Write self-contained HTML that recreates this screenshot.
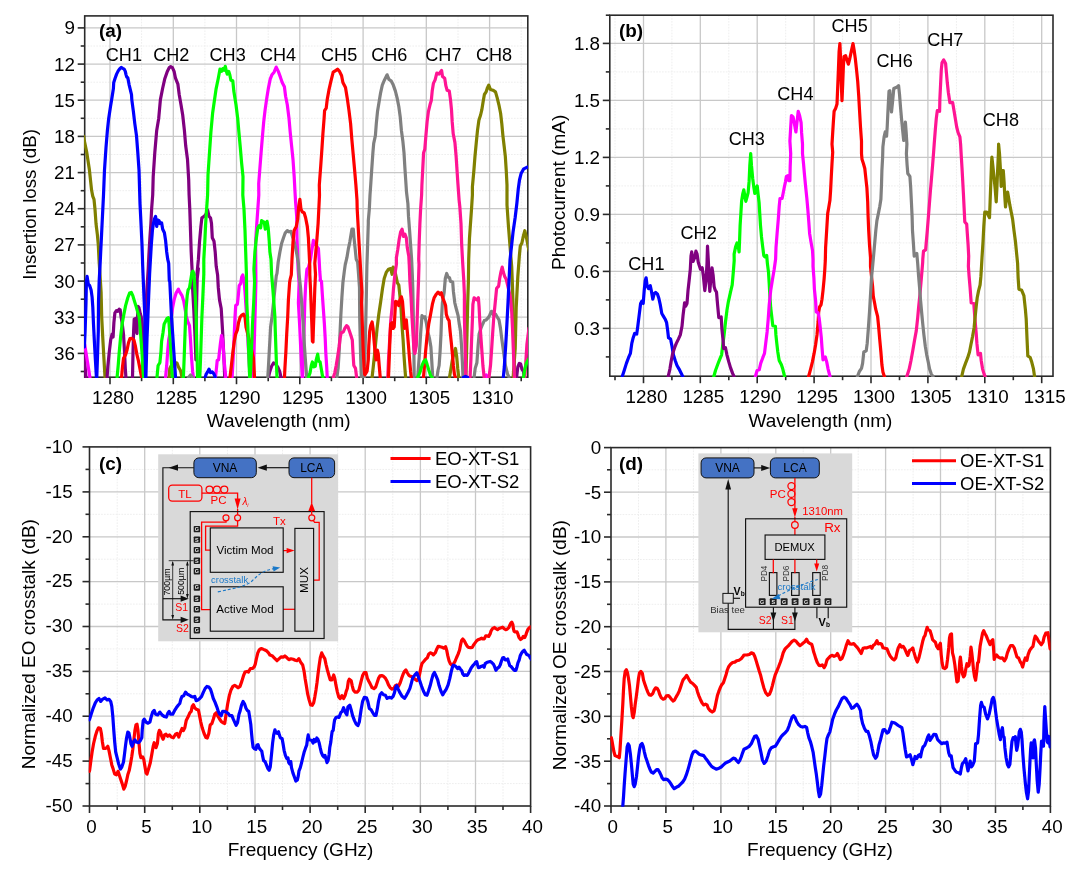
<!DOCTYPE html>
<html><head><meta charset="utf-8"><title>Figure</title>
<style>html,body{margin:0;padding:0;background:#fff;}svg{display:block;will-change:transform;}text{font-family:"Liberation Sans",sans-serif;fill:#000;}</style>
</head><body>
<svg width="1080" height="877" viewBox="0 0 1080 877" font-family='"Liberation Sans", sans-serif'>
<rect width="1080" height="877" fill="#fff"/>
<defs>
<clipPath id="clipA"><rect x="83.9" y="15.9" width="443.99999999999994" height="362.1"/></clipPath>
<clipPath id="clipB"><rect x="609.0" y="15.2" width="444.1" height="361.8"/></clipPath>
<clipPath id="clipC"><rect x="88.7" y="446.9" width="442.0" height="359.90000000000003"/></clipPath>
<clipPath id="clipD"><rect x="610.2" y="447.6" width="440.30000000000007" height="359.2"/></clipPath>
</defs>
<g>
<line x1="141.6" y1="15.9" x2="141.6" y2="377.2" stroke="#eeeeee" stroke-width="1" stroke-dasharray="1.7 1.2"/>
<line x1="204.9" y1="15.9" x2="204.9" y2="377.2" stroke="#eeeeee" stroke-width="1" stroke-dasharray="1.7 1.2"/>
<line x1="268.2" y1="15.9" x2="268.2" y2="377.2" stroke="#eeeeee" stroke-width="1" stroke-dasharray="1.7 1.2"/>
<line x1="331.4" y1="15.9" x2="331.4" y2="377.2" stroke="#eeeeee" stroke-width="1" stroke-dasharray="1.7 1.2"/>
<line x1="394.7" y1="15.9" x2="394.7" y2="377.2" stroke="#eeeeee" stroke-width="1" stroke-dasharray="1.7 1.2"/>
<line x1="458.0" y1="15.9" x2="458.0" y2="377.2" stroke="#eeeeee" stroke-width="1" stroke-dasharray="1.7 1.2"/>
<line x1="521.2" y1="15.9" x2="521.2" y2="377.2" stroke="#eeeeee" stroke-width="1" stroke-dasharray="1.7 1.2"/>
<line x1="84.7" y1="46.0" x2="527.8" y2="46.0" stroke="#eeeeee" stroke-width="1" stroke-dasharray="1.7 1.2"/>
<line x1="84.7" y1="82.2" x2="527.8" y2="82.2" stroke="#eeeeee" stroke-width="1" stroke-dasharray="1.7 1.2"/>
<line x1="84.7" y1="118.3" x2="527.8" y2="118.3" stroke="#eeeeee" stroke-width="1" stroke-dasharray="1.7 1.2"/>
<line x1="84.7" y1="154.5" x2="527.8" y2="154.5" stroke="#eeeeee" stroke-width="1" stroke-dasharray="1.7 1.2"/>
<line x1="84.7" y1="190.7" x2="527.8" y2="190.7" stroke="#eeeeee" stroke-width="1" stroke-dasharray="1.7 1.2"/>
<line x1="84.7" y1="226.8" x2="527.8" y2="226.8" stroke="#eeeeee" stroke-width="1" stroke-dasharray="1.7 1.2"/>
<line x1="84.7" y1="263.0" x2="527.8" y2="263.0" stroke="#eeeeee" stroke-width="1" stroke-dasharray="1.7 1.2"/>
<line x1="84.7" y1="299.2" x2="527.8" y2="299.2" stroke="#eeeeee" stroke-width="1" stroke-dasharray="1.7 1.2"/>
<line x1="84.7" y1="335.3" x2="527.8" y2="335.3" stroke="#eeeeee" stroke-width="1" stroke-dasharray="1.7 1.2"/>
<line x1="84.7" y1="371.5" x2="527.8" y2="371.5" stroke="#eeeeee" stroke-width="1" stroke-dasharray="1.7 1.2"/>
<line x1="110.0" y1="15.9" x2="110.0" y2="377.2" stroke="#c8c8c8" stroke-width="1.3"/>
<line x1="173.3" y1="15.9" x2="173.3" y2="377.2" stroke="#c8c8c8" stroke-width="1.3"/>
<line x1="236.5" y1="15.9" x2="236.5" y2="377.2" stroke="#c8c8c8" stroke-width="1.3"/>
<line x1="299.8" y1="15.9" x2="299.8" y2="377.2" stroke="#c8c8c8" stroke-width="1.3"/>
<line x1="363.1" y1="15.9" x2="363.1" y2="377.2" stroke="#c8c8c8" stroke-width="1.3"/>
<line x1="426.3" y1="15.9" x2="426.3" y2="377.2" stroke="#c8c8c8" stroke-width="1.3"/>
<line x1="489.6" y1="15.9" x2="489.6" y2="377.2" stroke="#c8c8c8" stroke-width="1.3"/>
<line x1="84.7" y1="27.9" x2="527.8" y2="27.9" stroke="#c8c8c8" stroke-width="1.3"/>
<line x1="84.7" y1="64.1" x2="527.8" y2="64.1" stroke="#c8c8c8" stroke-width="1.3"/>
<line x1="84.7" y1="100.2" x2="527.8" y2="100.2" stroke="#c8c8c8" stroke-width="1.3"/>
<line x1="84.7" y1="136.4" x2="527.8" y2="136.4" stroke="#c8c8c8" stroke-width="1.3"/>
<line x1="84.7" y1="172.6" x2="527.8" y2="172.6" stroke="#c8c8c8" stroke-width="1.3"/>
<line x1="84.7" y1="208.7" x2="527.8" y2="208.7" stroke="#c8c8c8" stroke-width="1.3"/>
<line x1="84.7" y1="244.9" x2="527.8" y2="244.9" stroke="#c8c8c8" stroke-width="1.3"/>
<line x1="84.7" y1="281.1" x2="527.8" y2="281.1" stroke="#c8c8c8" stroke-width="1.3"/>
<line x1="84.7" y1="317.2" x2="527.8" y2="317.2" stroke="#c8c8c8" stroke-width="1.3"/>
<line x1="84.7" y1="353.4" x2="527.8" y2="353.4" stroke="#c8c8c8" stroke-width="1.3"/>
</g>
<g>
<line x1="615.0" y1="15.2" x2="615.0" y2="376.2" stroke="#eeeeee" stroke-width="1" stroke-dasharray="1.7 1.2"/>
<line x1="671.9" y1="15.2" x2="671.9" y2="376.2" stroke="#eeeeee" stroke-width="1" stroke-dasharray="1.7 1.2"/>
<line x1="728.8" y1="15.2" x2="728.8" y2="376.2" stroke="#eeeeee" stroke-width="1" stroke-dasharray="1.7 1.2"/>
<line x1="785.7" y1="15.2" x2="785.7" y2="376.2" stroke="#eeeeee" stroke-width="1" stroke-dasharray="1.7 1.2"/>
<line x1="842.6" y1="15.2" x2="842.6" y2="376.2" stroke="#eeeeee" stroke-width="1" stroke-dasharray="1.7 1.2"/>
<line x1="899.5" y1="15.2" x2="899.5" y2="376.2" stroke="#eeeeee" stroke-width="1" stroke-dasharray="1.7 1.2"/>
<line x1="956.4" y1="15.2" x2="956.4" y2="376.2" stroke="#eeeeee" stroke-width="1" stroke-dasharray="1.7 1.2"/>
<line x1="1013.3" y1="15.2" x2="1013.3" y2="376.2" stroke="#eeeeee" stroke-width="1" stroke-dasharray="1.7 1.2"/>
<line x1="609.8" y1="356.9" x2="1053.0" y2="356.9" stroke="#eeeeee" stroke-width="1" stroke-dasharray="1.7 1.2"/>
<line x1="609.8" y1="299.9" x2="1053.0" y2="299.9" stroke="#eeeeee" stroke-width="1" stroke-dasharray="1.7 1.2"/>
<line x1="609.8" y1="242.9" x2="1053.0" y2="242.9" stroke="#eeeeee" stroke-width="1" stroke-dasharray="1.7 1.2"/>
<line x1="609.8" y1="185.9" x2="1053.0" y2="185.9" stroke="#eeeeee" stroke-width="1" stroke-dasharray="1.7 1.2"/>
<line x1="609.8" y1="128.9" x2="1053.0" y2="128.9" stroke="#eeeeee" stroke-width="1" stroke-dasharray="1.7 1.2"/>
<line x1="609.8" y1="71.9" x2="1053.0" y2="71.9" stroke="#eeeeee" stroke-width="1" stroke-dasharray="1.7 1.2"/>
<line x1="643.5" y1="15.2" x2="643.5" y2="376.2" stroke="#c8c8c8" stroke-width="1.3"/>
<line x1="700.3" y1="15.2" x2="700.3" y2="376.2" stroke="#c8c8c8" stroke-width="1.3"/>
<line x1="757.2" y1="15.2" x2="757.2" y2="376.2" stroke="#c8c8c8" stroke-width="1.3"/>
<line x1="814.1" y1="15.2" x2="814.1" y2="376.2" stroke="#c8c8c8" stroke-width="1.3"/>
<line x1="871.0" y1="15.2" x2="871.0" y2="376.2" stroke="#c8c8c8" stroke-width="1.3"/>
<line x1="927.9" y1="15.2" x2="927.9" y2="376.2" stroke="#c8c8c8" stroke-width="1.3"/>
<line x1="984.8" y1="15.2" x2="984.8" y2="376.2" stroke="#c8c8c8" stroke-width="1.3"/>
<line x1="1041.7" y1="15.2" x2="1041.7" y2="376.2" stroke="#c8c8c8" stroke-width="1.3"/>
<line x1="609.8" y1="328.4" x2="1053.0" y2="328.4" stroke="#c8c8c8" stroke-width="1.3"/>
<line x1="609.8" y1="271.4" x2="1053.0" y2="271.4" stroke="#c8c8c8" stroke-width="1.3"/>
<line x1="609.8" y1="214.4" x2="1053.0" y2="214.4" stroke="#c8c8c8" stroke-width="1.3"/>
<line x1="609.8" y1="157.4" x2="1053.0" y2="157.4" stroke="#c8c8c8" stroke-width="1.3"/>
<line x1="609.8" y1="100.4" x2="1053.0" y2="100.4" stroke="#c8c8c8" stroke-width="1.3"/>
<line x1="609.8" y1="43.4" x2="1053.0" y2="43.4" stroke="#c8c8c8" stroke-width="1.3"/>
</g>
<g>
<line x1="117.2" y1="446.9" x2="117.2" y2="806.0" stroke="#eeeeee" stroke-width="1" stroke-dasharray="1.7 1.2"/>
<line x1="172.3" y1="446.9" x2="172.3" y2="806.0" stroke="#eeeeee" stroke-width="1" stroke-dasharray="1.7 1.2"/>
<line x1="227.4" y1="446.9" x2="227.4" y2="806.0" stroke="#eeeeee" stroke-width="1" stroke-dasharray="1.7 1.2"/>
<line x1="282.5" y1="446.9" x2="282.5" y2="806.0" stroke="#eeeeee" stroke-width="1" stroke-dasharray="1.7 1.2"/>
<line x1="337.7" y1="446.9" x2="337.7" y2="806.0" stroke="#eeeeee" stroke-width="1" stroke-dasharray="1.7 1.2"/>
<line x1="392.8" y1="446.9" x2="392.8" y2="806.0" stroke="#eeeeee" stroke-width="1" stroke-dasharray="1.7 1.2"/>
<line x1="447.9" y1="446.9" x2="447.9" y2="806.0" stroke="#eeeeee" stroke-width="1" stroke-dasharray="1.7 1.2"/>
<line x1="503.0" y1="446.9" x2="503.0" y2="806.0" stroke="#eeeeee" stroke-width="1" stroke-dasharray="1.7 1.2"/>
<line x1="89.5" y1="783.6" x2="530.6" y2="783.6" stroke="#eeeeee" stroke-width="1" stroke-dasharray="1.7 1.2"/>
<line x1="89.5" y1="738.7" x2="530.6" y2="738.7" stroke="#eeeeee" stroke-width="1" stroke-dasharray="1.7 1.2"/>
<line x1="89.5" y1="693.8" x2="530.6" y2="693.8" stroke="#eeeeee" stroke-width="1" stroke-dasharray="1.7 1.2"/>
<line x1="89.5" y1="648.9" x2="530.6" y2="648.9" stroke="#eeeeee" stroke-width="1" stroke-dasharray="1.7 1.2"/>
<line x1="89.5" y1="604.1" x2="530.6" y2="604.1" stroke="#eeeeee" stroke-width="1" stroke-dasharray="1.7 1.2"/>
<line x1="89.5" y1="559.2" x2="530.6" y2="559.2" stroke="#eeeeee" stroke-width="1" stroke-dasharray="1.7 1.2"/>
<line x1="89.5" y1="514.3" x2="530.6" y2="514.3" stroke="#eeeeee" stroke-width="1" stroke-dasharray="1.7 1.2"/>
<line x1="89.5" y1="469.4" x2="530.6" y2="469.4" stroke="#eeeeee" stroke-width="1" stroke-dasharray="1.7 1.2"/>
<line x1="144.7" y1="446.9" x2="144.7" y2="806.0" stroke="#c8c8c8" stroke-width="1.3"/>
<line x1="199.8" y1="446.9" x2="199.8" y2="806.0" stroke="#c8c8c8" stroke-width="1.3"/>
<line x1="255.0" y1="446.9" x2="255.0" y2="806.0" stroke="#c8c8c8" stroke-width="1.3"/>
<line x1="310.1" y1="446.9" x2="310.1" y2="806.0" stroke="#c8c8c8" stroke-width="1.3"/>
<line x1="365.2" y1="446.9" x2="365.2" y2="806.0" stroke="#c8c8c8" stroke-width="1.3"/>
<line x1="420.4" y1="446.9" x2="420.4" y2="806.0" stroke="#c8c8c8" stroke-width="1.3"/>
<line x1="475.5" y1="446.9" x2="475.5" y2="806.0" stroke="#c8c8c8" stroke-width="1.3"/>
<line x1="89.5" y1="761.1" x2="530.6" y2="761.1" stroke="#c8c8c8" stroke-width="1.3"/>
<line x1="89.5" y1="716.2" x2="530.6" y2="716.2" stroke="#c8c8c8" stroke-width="1.3"/>
<line x1="89.5" y1="671.4" x2="530.6" y2="671.4" stroke="#c8c8c8" stroke-width="1.3"/>
<line x1="89.5" y1="626.5" x2="530.6" y2="626.5" stroke="#c8c8c8" stroke-width="1.3"/>
<line x1="89.5" y1="581.6" x2="530.6" y2="581.6" stroke="#c8c8c8" stroke-width="1.3"/>
<line x1="89.5" y1="536.8" x2="530.6" y2="536.8" stroke="#c8c8c8" stroke-width="1.3"/>
<line x1="89.5" y1="491.9" x2="530.6" y2="491.9" stroke="#c8c8c8" stroke-width="1.3"/>
</g>
<g>
<line x1="638.5" y1="447.6" x2="638.5" y2="806.0" stroke="#eeeeee" stroke-width="1" stroke-dasharray="1.7 1.2"/>
<line x1="693.4" y1="447.6" x2="693.4" y2="806.0" stroke="#eeeeee" stroke-width="1" stroke-dasharray="1.7 1.2"/>
<line x1="748.3" y1="447.6" x2="748.3" y2="806.0" stroke="#eeeeee" stroke-width="1" stroke-dasharray="1.7 1.2"/>
<line x1="803.2" y1="447.6" x2="803.2" y2="806.0" stroke="#eeeeee" stroke-width="1" stroke-dasharray="1.7 1.2"/>
<line x1="858.2" y1="447.6" x2="858.2" y2="806.0" stroke="#eeeeee" stroke-width="1" stroke-dasharray="1.7 1.2"/>
<line x1="913.1" y1="447.6" x2="913.1" y2="806.0" stroke="#eeeeee" stroke-width="1" stroke-dasharray="1.7 1.2"/>
<line x1="968.0" y1="447.6" x2="968.0" y2="806.0" stroke="#eeeeee" stroke-width="1" stroke-dasharray="1.7 1.2"/>
<line x1="1022.9" y1="447.6" x2="1022.9" y2="806.0" stroke="#eeeeee" stroke-width="1" stroke-dasharray="1.7 1.2"/>
<line x1="611.0" y1="783.6" x2="1050.4" y2="783.6" stroke="#eeeeee" stroke-width="1" stroke-dasharray="1.7 1.2"/>
<line x1="611.0" y1="738.8" x2="1050.4" y2="738.8" stroke="#eeeeee" stroke-width="1" stroke-dasharray="1.7 1.2"/>
<line x1="611.0" y1="693.9" x2="1050.4" y2="693.9" stroke="#eeeeee" stroke-width="1" stroke-dasharray="1.7 1.2"/>
<line x1="611.0" y1="649.1" x2="1050.4" y2="649.1" stroke="#eeeeee" stroke-width="1" stroke-dasharray="1.7 1.2"/>
<line x1="611.0" y1="604.3" x2="1050.4" y2="604.3" stroke="#eeeeee" stroke-width="1" stroke-dasharray="1.7 1.2"/>
<line x1="611.0" y1="559.5" x2="1050.4" y2="559.5" stroke="#eeeeee" stroke-width="1" stroke-dasharray="1.7 1.2"/>
<line x1="611.0" y1="514.6" x2="1050.4" y2="514.6" stroke="#eeeeee" stroke-width="1" stroke-dasharray="1.7 1.2"/>
<line x1="611.0" y1="469.8" x2="1050.4" y2="469.8" stroke="#eeeeee" stroke-width="1" stroke-dasharray="1.7 1.2"/>
<line x1="665.9" y1="447.6" x2="665.9" y2="806.0" stroke="#c8c8c8" stroke-width="1.3"/>
<line x1="720.9" y1="447.6" x2="720.9" y2="806.0" stroke="#c8c8c8" stroke-width="1.3"/>
<line x1="775.8" y1="447.6" x2="775.8" y2="806.0" stroke="#c8c8c8" stroke-width="1.3"/>
<line x1="830.7" y1="447.6" x2="830.7" y2="806.0" stroke="#c8c8c8" stroke-width="1.3"/>
<line x1="885.6" y1="447.6" x2="885.6" y2="806.0" stroke="#c8c8c8" stroke-width="1.3"/>
<line x1="940.5" y1="447.6" x2="940.5" y2="806.0" stroke="#c8c8c8" stroke-width="1.3"/>
<line x1="995.5" y1="447.6" x2="995.5" y2="806.0" stroke="#c8c8c8" stroke-width="1.3"/>
<line x1="611.0" y1="761.2" x2="1050.4" y2="761.2" stroke="#c8c8c8" stroke-width="1.3"/>
<line x1="611.0" y1="716.3" x2="1050.4" y2="716.3" stroke="#c8c8c8" stroke-width="1.3"/>
<line x1="611.0" y1="671.5" x2="1050.4" y2="671.5" stroke="#c8c8c8" stroke-width="1.3"/>
<line x1="611.0" y1="626.7" x2="1050.4" y2="626.7" stroke="#c8c8c8" stroke-width="1.3"/>
<line x1="611.0" y1="581.9" x2="1050.4" y2="581.9" stroke="#c8c8c8" stroke-width="1.3"/>
<line x1="611.0" y1="537.0" x2="1050.4" y2="537.0" stroke="#c8c8c8" stroke-width="1.3"/>
<line x1="611.0" y1="492.2" x2="1050.4" y2="492.2" stroke="#c8c8c8" stroke-width="1.3"/>
</g>
<rect x="84.7" y="15.9" width="443.09999999999997" height="361.3" fill="none" stroke="#2a2a2a" stroke-width="1.6"/>
<line x1="110.0" y1="377.2" x2="110.0" y2="384.2" stroke="#2a2a2a" stroke-width="1.6"/>
<line x1="173.3" y1="377.2" x2="173.3" y2="384.2" stroke="#2a2a2a" stroke-width="1.6"/>
<line x1="236.5" y1="377.2" x2="236.5" y2="384.2" stroke="#2a2a2a" stroke-width="1.6"/>
<line x1="299.8" y1="377.2" x2="299.8" y2="384.2" stroke="#2a2a2a" stroke-width="1.6"/>
<line x1="363.1" y1="377.2" x2="363.1" y2="384.2" stroke="#2a2a2a" stroke-width="1.6"/>
<line x1="426.3" y1="377.2" x2="426.3" y2="384.2" stroke="#2a2a2a" stroke-width="1.6"/>
<line x1="489.6" y1="377.2" x2="489.6" y2="384.2" stroke="#2a2a2a" stroke-width="1.6"/>
<line x1="141.6" y1="377.2" x2="141.6" y2="381.2" stroke="#2a2a2a" stroke-width="1.6"/>
<line x1="204.9" y1="377.2" x2="204.9" y2="381.2" stroke="#2a2a2a" stroke-width="1.6"/>
<line x1="268.2" y1="377.2" x2="268.2" y2="381.2" stroke="#2a2a2a" stroke-width="1.6"/>
<line x1="331.4" y1="377.2" x2="331.4" y2="381.2" stroke="#2a2a2a" stroke-width="1.6"/>
<line x1="394.7" y1="377.2" x2="394.7" y2="381.2" stroke="#2a2a2a" stroke-width="1.6"/>
<line x1="458.0" y1="377.2" x2="458.0" y2="381.2" stroke="#2a2a2a" stroke-width="1.6"/>
<line x1="521.2" y1="377.2" x2="521.2" y2="381.2" stroke="#2a2a2a" stroke-width="1.6"/>
<line x1="77.7" y1="27.9" x2="84.7" y2="27.9" stroke="#2a2a2a" stroke-width="1.6"/>
<line x1="77.7" y1="64.1" x2="84.7" y2="64.1" stroke="#2a2a2a" stroke-width="1.6"/>
<line x1="77.7" y1="100.2" x2="84.7" y2="100.2" stroke="#2a2a2a" stroke-width="1.6"/>
<line x1="77.7" y1="136.4" x2="84.7" y2="136.4" stroke="#2a2a2a" stroke-width="1.6"/>
<line x1="77.7" y1="172.6" x2="84.7" y2="172.6" stroke="#2a2a2a" stroke-width="1.6"/>
<line x1="77.7" y1="208.7" x2="84.7" y2="208.7" stroke="#2a2a2a" stroke-width="1.6"/>
<line x1="77.7" y1="244.9" x2="84.7" y2="244.9" stroke="#2a2a2a" stroke-width="1.6"/>
<line x1="77.7" y1="281.1" x2="84.7" y2="281.1" stroke="#2a2a2a" stroke-width="1.6"/>
<line x1="77.7" y1="317.2" x2="84.7" y2="317.2" stroke="#2a2a2a" stroke-width="1.6"/>
<line x1="77.7" y1="353.4" x2="84.7" y2="353.4" stroke="#2a2a2a" stroke-width="1.6"/>
<line x1="80.7" y1="46.0" x2="84.7" y2="46.0" stroke="#2a2a2a" stroke-width="1.6"/>
<line x1="80.7" y1="82.2" x2="84.7" y2="82.2" stroke="#2a2a2a" stroke-width="1.6"/>
<line x1="80.7" y1="118.3" x2="84.7" y2="118.3" stroke="#2a2a2a" stroke-width="1.6"/>
<line x1="80.7" y1="154.5" x2="84.7" y2="154.5" stroke="#2a2a2a" stroke-width="1.6"/>
<line x1="80.7" y1="190.7" x2="84.7" y2="190.7" stroke="#2a2a2a" stroke-width="1.6"/>
<line x1="80.7" y1="226.8" x2="84.7" y2="226.8" stroke="#2a2a2a" stroke-width="1.6"/>
<line x1="80.7" y1="263.0" x2="84.7" y2="263.0" stroke="#2a2a2a" stroke-width="1.6"/>
<line x1="80.7" y1="299.2" x2="84.7" y2="299.2" stroke="#2a2a2a" stroke-width="1.6"/>
<line x1="80.7" y1="335.3" x2="84.7" y2="335.3" stroke="#2a2a2a" stroke-width="1.6"/>
<line x1="80.7" y1="371.5" x2="84.7" y2="371.5" stroke="#2a2a2a" stroke-width="1.6"/>
<text x="113.0" y="403.8" font-size="18.8" text-anchor="middle">1280</text>
<text x="176.3" y="403.8" font-size="18.8" text-anchor="middle">1285</text>
<text x="239.5" y="403.8" font-size="18.8" text-anchor="middle">1290</text>
<text x="302.8" y="403.8" font-size="18.8" text-anchor="middle">1295</text>
<text x="366.1" y="403.8" font-size="18.8" text-anchor="middle">1300</text>
<text x="429.3" y="403.8" font-size="18.8" text-anchor="middle">1305</text>
<text x="492.6" y="403.8" font-size="18.8" text-anchor="middle">1310</text>
<text x="74.9" y="34.3" font-size="18.8" text-anchor="end">9</text>
<text x="74.9" y="70.5" font-size="18.8" text-anchor="end">12</text>
<text x="74.9" y="106.6" font-size="18.8" text-anchor="end">15</text>
<text x="74.9" y="142.8" font-size="18.8" text-anchor="end">18</text>
<text x="74.9" y="179.0" font-size="18.8" text-anchor="end">21</text>
<text x="74.9" y="215.1" font-size="18.8" text-anchor="end">24</text>
<text x="74.9" y="251.3" font-size="18.8" text-anchor="end">27</text>
<text x="74.9" y="287.5" font-size="18.8" text-anchor="end">30</text>
<text x="74.9" y="323.6" font-size="18.8" text-anchor="end">33</text>
<text x="74.9" y="359.8" font-size="18.8" text-anchor="end">36</text>
<rect x="609.8" y="15.2" width="443.20000000000005" height="361.0" fill="none" stroke="#2a2a2a" stroke-width="1.6"/>
<line x1="643.5" y1="376.2" x2="643.5" y2="383.2" stroke="#2a2a2a" stroke-width="1.6"/>
<line x1="700.3" y1="376.2" x2="700.3" y2="383.2" stroke="#2a2a2a" stroke-width="1.6"/>
<line x1="757.2" y1="376.2" x2="757.2" y2="383.2" stroke="#2a2a2a" stroke-width="1.6"/>
<line x1="814.1" y1="376.2" x2="814.1" y2="383.2" stroke="#2a2a2a" stroke-width="1.6"/>
<line x1="871.0" y1="376.2" x2="871.0" y2="383.2" stroke="#2a2a2a" stroke-width="1.6"/>
<line x1="927.9" y1="376.2" x2="927.9" y2="383.2" stroke="#2a2a2a" stroke-width="1.6"/>
<line x1="984.8" y1="376.2" x2="984.8" y2="383.2" stroke="#2a2a2a" stroke-width="1.6"/>
<line x1="1041.7" y1="376.2" x2="1041.7" y2="383.2" stroke="#2a2a2a" stroke-width="1.6"/>
<line x1="615.0" y1="376.2" x2="615.0" y2="380.2" stroke="#2a2a2a" stroke-width="1.6"/>
<line x1="671.9" y1="376.2" x2="671.9" y2="380.2" stroke="#2a2a2a" stroke-width="1.6"/>
<line x1="728.8" y1="376.2" x2="728.8" y2="380.2" stroke="#2a2a2a" stroke-width="1.6"/>
<line x1="785.7" y1="376.2" x2="785.7" y2="380.2" stroke="#2a2a2a" stroke-width="1.6"/>
<line x1="842.6" y1="376.2" x2="842.6" y2="380.2" stroke="#2a2a2a" stroke-width="1.6"/>
<line x1="899.5" y1="376.2" x2="899.5" y2="380.2" stroke="#2a2a2a" stroke-width="1.6"/>
<line x1="956.4" y1="376.2" x2="956.4" y2="380.2" stroke="#2a2a2a" stroke-width="1.6"/>
<line x1="1013.3" y1="376.2" x2="1013.3" y2="380.2" stroke="#2a2a2a" stroke-width="1.6"/>
<line x1="602.8" y1="328.4" x2="609.8" y2="328.4" stroke="#2a2a2a" stroke-width="1.6"/>
<line x1="602.8" y1="271.4" x2="609.8" y2="271.4" stroke="#2a2a2a" stroke-width="1.6"/>
<line x1="602.8" y1="214.4" x2="609.8" y2="214.4" stroke="#2a2a2a" stroke-width="1.6"/>
<line x1="602.8" y1="157.4" x2="609.8" y2="157.4" stroke="#2a2a2a" stroke-width="1.6"/>
<line x1="602.8" y1="100.4" x2="609.8" y2="100.4" stroke="#2a2a2a" stroke-width="1.6"/>
<line x1="602.8" y1="43.4" x2="609.8" y2="43.4" stroke="#2a2a2a" stroke-width="1.6"/>
<line x1="605.8" y1="356.9" x2="609.8" y2="356.9" stroke="#2a2a2a" stroke-width="1.6"/>
<line x1="605.8" y1="299.9" x2="609.8" y2="299.9" stroke="#2a2a2a" stroke-width="1.6"/>
<line x1="605.8" y1="242.9" x2="609.8" y2="242.9" stroke="#2a2a2a" stroke-width="1.6"/>
<line x1="605.8" y1="185.9" x2="609.8" y2="185.9" stroke="#2a2a2a" stroke-width="1.6"/>
<line x1="605.8" y1="128.9" x2="609.8" y2="128.9" stroke="#2a2a2a" stroke-width="1.6"/>
<line x1="605.8" y1="71.9" x2="609.8" y2="71.9" stroke="#2a2a2a" stroke-width="1.6"/>
<line x1="605.8" y1="15.2" x2="609.8" y2="15.2" stroke="#2a2a2a" stroke-width="1.6"/>
<text x="646.5" y="402.8" font-size="18.8" text-anchor="middle">1280</text>
<text x="703.3" y="402.8" font-size="18.8" text-anchor="middle">1285</text>
<text x="760.2" y="402.8" font-size="18.8" text-anchor="middle">1290</text>
<text x="817.1" y="402.8" font-size="18.8" text-anchor="middle">1295</text>
<text x="874.0" y="402.8" font-size="18.8" text-anchor="middle">1300</text>
<text x="930.9" y="402.8" font-size="18.8" text-anchor="middle">1305</text>
<text x="987.8" y="402.8" font-size="18.8" text-anchor="middle">1310</text>
<text x="1044.7" y="402.8" font-size="18.8" text-anchor="middle">1315</text>
<text x="600.0" y="334.8" font-size="18.8" text-anchor="end">0.3</text>
<text x="600.0" y="277.8" font-size="18.8" text-anchor="end">0.6</text>
<text x="600.0" y="220.8" font-size="18.8" text-anchor="end">0.9</text>
<text x="600.0" y="163.8" font-size="18.8" text-anchor="end">1.2</text>
<text x="600.0" y="106.8" font-size="18.8" text-anchor="end">1.5</text>
<text x="600.0" y="49.8" font-size="18.8" text-anchor="end">1.8</text>
<rect x="89.5" y="446.9" width="441.1" height="359.1" fill="none" stroke="#2a2a2a" stroke-width="1.6"/>
<line x1="89.5" y1="806.0" x2="89.5" y2="813.0" stroke="#2a2a2a" stroke-width="1.6"/>
<line x1="144.7" y1="806.0" x2="144.7" y2="813.0" stroke="#2a2a2a" stroke-width="1.6"/>
<line x1="199.8" y1="806.0" x2="199.8" y2="813.0" stroke="#2a2a2a" stroke-width="1.6"/>
<line x1="255.0" y1="806.0" x2="255.0" y2="813.0" stroke="#2a2a2a" stroke-width="1.6"/>
<line x1="310.1" y1="806.0" x2="310.1" y2="813.0" stroke="#2a2a2a" stroke-width="1.6"/>
<line x1="365.2" y1="806.0" x2="365.2" y2="813.0" stroke="#2a2a2a" stroke-width="1.6"/>
<line x1="420.4" y1="806.0" x2="420.4" y2="813.0" stroke="#2a2a2a" stroke-width="1.6"/>
<line x1="475.5" y1="806.0" x2="475.5" y2="813.0" stroke="#2a2a2a" stroke-width="1.6"/>
<line x1="530.6" y1="806.0" x2="530.6" y2="813.0" stroke="#2a2a2a" stroke-width="1.6"/>
<line x1="117.2" y1="806.0" x2="117.2" y2="810.0" stroke="#2a2a2a" stroke-width="1.6"/>
<line x1="172.3" y1="806.0" x2="172.3" y2="810.0" stroke="#2a2a2a" stroke-width="1.6"/>
<line x1="227.4" y1="806.0" x2="227.4" y2="810.0" stroke="#2a2a2a" stroke-width="1.6"/>
<line x1="282.5" y1="806.0" x2="282.5" y2="810.0" stroke="#2a2a2a" stroke-width="1.6"/>
<line x1="337.7" y1="806.0" x2="337.7" y2="810.0" stroke="#2a2a2a" stroke-width="1.6"/>
<line x1="392.8" y1="806.0" x2="392.8" y2="810.0" stroke="#2a2a2a" stroke-width="1.6"/>
<line x1="447.9" y1="806.0" x2="447.9" y2="810.0" stroke="#2a2a2a" stroke-width="1.6"/>
<line x1="503.0" y1="806.0" x2="503.0" y2="810.0" stroke="#2a2a2a" stroke-width="1.6"/>
<line x1="82.5" y1="806.0" x2="89.5" y2="806.0" stroke="#2a2a2a" stroke-width="1.6"/>
<line x1="82.5" y1="761.1" x2="89.5" y2="761.1" stroke="#2a2a2a" stroke-width="1.6"/>
<line x1="82.5" y1="716.2" x2="89.5" y2="716.2" stroke="#2a2a2a" stroke-width="1.6"/>
<line x1="82.5" y1="671.4" x2="89.5" y2="671.4" stroke="#2a2a2a" stroke-width="1.6"/>
<line x1="82.5" y1="626.5" x2="89.5" y2="626.5" stroke="#2a2a2a" stroke-width="1.6"/>
<line x1="82.5" y1="581.6" x2="89.5" y2="581.6" stroke="#2a2a2a" stroke-width="1.6"/>
<line x1="82.5" y1="536.8" x2="89.5" y2="536.8" stroke="#2a2a2a" stroke-width="1.6"/>
<line x1="82.5" y1="491.9" x2="89.5" y2="491.9" stroke="#2a2a2a" stroke-width="1.6"/>
<line x1="82.5" y1="446.9" x2="89.5" y2="446.9" stroke="#2a2a2a" stroke-width="1.6"/>
<line x1="85.5" y1="783.6" x2="89.5" y2="783.6" stroke="#2a2a2a" stroke-width="1.6"/>
<line x1="85.5" y1="738.7" x2="89.5" y2="738.7" stroke="#2a2a2a" stroke-width="1.6"/>
<line x1="85.5" y1="693.8" x2="89.5" y2="693.8" stroke="#2a2a2a" stroke-width="1.6"/>
<line x1="85.5" y1="648.9" x2="89.5" y2="648.9" stroke="#2a2a2a" stroke-width="1.6"/>
<line x1="85.5" y1="604.1" x2="89.5" y2="604.1" stroke="#2a2a2a" stroke-width="1.6"/>
<line x1="85.5" y1="559.2" x2="89.5" y2="559.2" stroke="#2a2a2a" stroke-width="1.6"/>
<line x1="85.5" y1="514.3" x2="89.5" y2="514.3" stroke="#2a2a2a" stroke-width="1.6"/>
<line x1="85.5" y1="469.4" x2="89.5" y2="469.4" stroke="#2a2a2a" stroke-width="1.6"/>
<text x="91.4" y="832.6" font-size="18.8" text-anchor="middle">0</text>
<text x="146.5" y="832.6" font-size="18.8" text-anchor="middle">5</text>
<text x="201.7" y="832.6" font-size="18.8" text-anchor="middle">10</text>
<text x="256.8" y="832.6" font-size="18.8" text-anchor="middle">15</text>
<text x="311.9" y="832.6" font-size="18.8" text-anchor="middle">20</text>
<text x="367.0" y="832.6" font-size="18.8" text-anchor="middle">25</text>
<text x="422.2" y="832.6" font-size="18.8" text-anchor="middle">30</text>
<text x="477.3" y="832.6" font-size="18.8" text-anchor="middle">35</text>
<text x="532.4" y="832.6" font-size="18.8" text-anchor="middle">40</text>
<text x="72.7" y="811.8" font-size="18.8" text-anchor="end">-50</text>
<text x="72.7" y="766.9" font-size="18.8" text-anchor="end">-45</text>
<text x="72.7" y="722.0" font-size="18.8" text-anchor="end">-40</text>
<text x="72.7" y="677.2" font-size="18.8" text-anchor="end">-35</text>
<text x="72.7" y="632.3" font-size="18.8" text-anchor="end">-30</text>
<text x="72.7" y="587.4" font-size="18.8" text-anchor="end">-25</text>
<text x="72.7" y="542.5" font-size="18.8" text-anchor="end">-20</text>
<text x="72.7" y="497.7" font-size="18.8" text-anchor="end">-15</text>
<text x="72.7" y="452.8" font-size="18.8" text-anchor="end">-10</text>
<rect x="611.0" y="447.6" width="439.4000000000001" height="358.4" fill="none" stroke="#2a2a2a" stroke-width="1.6"/>
<line x1="611.0" y1="806.0" x2="611.0" y2="813.0" stroke="#2a2a2a" stroke-width="1.6"/>
<line x1="665.9" y1="806.0" x2="665.9" y2="813.0" stroke="#2a2a2a" stroke-width="1.6"/>
<line x1="720.9" y1="806.0" x2="720.9" y2="813.0" stroke="#2a2a2a" stroke-width="1.6"/>
<line x1="775.8" y1="806.0" x2="775.8" y2="813.0" stroke="#2a2a2a" stroke-width="1.6"/>
<line x1="830.7" y1="806.0" x2="830.7" y2="813.0" stroke="#2a2a2a" stroke-width="1.6"/>
<line x1="885.6" y1="806.0" x2="885.6" y2="813.0" stroke="#2a2a2a" stroke-width="1.6"/>
<line x1="940.5" y1="806.0" x2="940.5" y2="813.0" stroke="#2a2a2a" stroke-width="1.6"/>
<line x1="995.5" y1="806.0" x2="995.5" y2="813.0" stroke="#2a2a2a" stroke-width="1.6"/>
<line x1="1050.4" y1="806.0" x2="1050.4" y2="813.0" stroke="#2a2a2a" stroke-width="1.6"/>
<line x1="638.5" y1="806.0" x2="638.5" y2="810.0" stroke="#2a2a2a" stroke-width="1.6"/>
<line x1="693.4" y1="806.0" x2="693.4" y2="810.0" stroke="#2a2a2a" stroke-width="1.6"/>
<line x1="748.3" y1="806.0" x2="748.3" y2="810.0" stroke="#2a2a2a" stroke-width="1.6"/>
<line x1="803.2" y1="806.0" x2="803.2" y2="810.0" stroke="#2a2a2a" stroke-width="1.6"/>
<line x1="858.2" y1="806.0" x2="858.2" y2="810.0" stroke="#2a2a2a" stroke-width="1.6"/>
<line x1="913.1" y1="806.0" x2="913.1" y2="810.0" stroke="#2a2a2a" stroke-width="1.6"/>
<line x1="968.0" y1="806.0" x2="968.0" y2="810.0" stroke="#2a2a2a" stroke-width="1.6"/>
<line x1="1022.9" y1="806.0" x2="1022.9" y2="810.0" stroke="#2a2a2a" stroke-width="1.6"/>
<line x1="604.0" y1="806.0" x2="611.0" y2="806.0" stroke="#2a2a2a" stroke-width="1.6"/>
<line x1="604.0" y1="761.2" x2="611.0" y2="761.2" stroke="#2a2a2a" stroke-width="1.6"/>
<line x1="604.0" y1="716.3" x2="611.0" y2="716.3" stroke="#2a2a2a" stroke-width="1.6"/>
<line x1="604.0" y1="671.5" x2="611.0" y2="671.5" stroke="#2a2a2a" stroke-width="1.6"/>
<line x1="604.0" y1="626.7" x2="611.0" y2="626.7" stroke="#2a2a2a" stroke-width="1.6"/>
<line x1="604.0" y1="581.9" x2="611.0" y2="581.9" stroke="#2a2a2a" stroke-width="1.6"/>
<line x1="604.0" y1="537.0" x2="611.0" y2="537.0" stroke="#2a2a2a" stroke-width="1.6"/>
<line x1="604.0" y1="492.2" x2="611.0" y2="492.2" stroke="#2a2a2a" stroke-width="1.6"/>
<line x1="604.0" y1="447.6" x2="611.0" y2="447.6" stroke="#2a2a2a" stroke-width="1.6"/>
<line x1="607.0" y1="783.6" x2="611.0" y2="783.6" stroke="#2a2a2a" stroke-width="1.6"/>
<line x1="607.0" y1="738.8" x2="611.0" y2="738.8" stroke="#2a2a2a" stroke-width="1.6"/>
<line x1="607.0" y1="693.9" x2="611.0" y2="693.9" stroke="#2a2a2a" stroke-width="1.6"/>
<line x1="607.0" y1="649.1" x2="611.0" y2="649.1" stroke="#2a2a2a" stroke-width="1.6"/>
<line x1="607.0" y1="604.3" x2="611.0" y2="604.3" stroke="#2a2a2a" stroke-width="1.6"/>
<line x1="607.0" y1="559.5" x2="611.0" y2="559.5" stroke="#2a2a2a" stroke-width="1.6"/>
<line x1="607.0" y1="514.6" x2="611.0" y2="514.6" stroke="#2a2a2a" stroke-width="1.6"/>
<line x1="607.0" y1="469.8" x2="611.0" y2="469.8" stroke="#2a2a2a" stroke-width="1.6"/>
<text x="612.8" y="832.6" font-size="18.8" text-anchor="middle">0</text>
<text x="667.7" y="832.6" font-size="18.8" text-anchor="middle">5</text>
<text x="722.6" y="832.6" font-size="18.8" text-anchor="middle">10</text>
<text x="777.6" y="832.6" font-size="18.8" text-anchor="middle">15</text>
<text x="832.5" y="832.6" font-size="18.8" text-anchor="middle">20</text>
<text x="887.4" y="832.6" font-size="18.8" text-anchor="middle">25</text>
<text x="942.3" y="832.6" font-size="18.8" text-anchor="middle">30</text>
<text x="997.3" y="832.6" font-size="18.8" text-anchor="middle">35</text>
<text x="1052.2" y="832.6" font-size="18.8" text-anchor="middle">40</text>
<text x="601.2" y="812.4" font-size="18.8" text-anchor="end">-40</text>
<text x="601.2" y="767.6" font-size="18.8" text-anchor="end">-35</text>
<text x="601.2" y="722.7" font-size="18.8" text-anchor="end">-30</text>
<text x="601.2" y="677.9" font-size="18.8" text-anchor="end">-25</text>
<text x="601.2" y="633.1" font-size="18.8" text-anchor="end">-20</text>
<text x="601.2" y="588.3" font-size="18.8" text-anchor="end">-15</text>
<text x="601.2" y="543.4" font-size="18.8" text-anchor="end">-10</text>
<text x="601.2" y="498.6" font-size="18.8" text-anchor="end">-5</text>
<text x="601.2" y="453.8" font-size="18.8" text-anchor="end">0</text>
<text x="278.7" y="427.4" font-size="19" text-anchor="middle">Wavelength (nm)</text>
<text x="820.4" y="427.4" font-size="19" text-anchor="middle">Wavelength (nm)</text>
<text x="300.6" y="855.5" font-size="19" text-anchor="middle">Frequency (GHz)</text>
<text x="819.9" y="855.5" font-size="19" text-anchor="middle">Frequency (GHz)</text>
<text transform="translate(36,204.4) rotate(-90)" font-size="18.7" text-anchor="middle">Insertion loss (dB)</text>
<text transform="translate(565.1,192.4) rotate(-90)" font-size="19" text-anchor="middle">Photocurrent (mA)</text>
<text transform="translate(34.6,644.2) rotate(-90)" font-size="19" text-anchor="middle">Normalized EO crosstalk (dB)</text>
<text transform="translate(565.7,645.2) rotate(-90)" font-size="19" text-anchor="middle">Normalized OE crosstalk (dB)</text>
<text x="98.9" y="36.7" font-size="18.9" font-weight="bold">(a)</text>
<text x="618.9" y="36.7" font-size="18.9" font-weight="bold">(b)</text>
<text x="98.9" y="469.7" font-size="18.9" font-weight="bold">(c)</text>
<text x="618.9" y="469.7" font-size="18.9" font-weight="bold">(d)</text>
<text x="105.8" y="61.1" font-size="18.1">CH1</text>
<text x="153.2" y="61.1" font-size="18.1">CH2</text>
<text x="209.5" y="61.1" font-size="18.1">CH3</text>
<text x="259.9" y="61.1" font-size="18.1">CH4</text>
<text x="321.0" y="61.1" font-size="18.1">CH5</text>
<text x="371.2" y="61.1" font-size="18.1">CH6</text>
<text x="425.3" y="61.1" font-size="18.1">CH7</text>
<text x="475.9" y="61.1" font-size="18.1">CH8</text>
<text x="628.3" y="270.1" font-size="18.1">CH1</text>
<text x="680.5" y="238.9" font-size="18.1">CH2</text>
<text x="728.7" y="144.6" font-size="18.1">CH3</text>
<text x="777.3" y="99.5" font-size="18.1">CH4</text>
<text x="831.5" y="31.7" font-size="18.1">CH5</text>
<text x="876.5" y="66.8" font-size="18.1">CH6</text>
<text x="927.2" y="45.8" font-size="18.1">CH7</text>
<text x="982.8" y="125.5" font-size="18.1">CH8</text>
<g id="curvesA">
<path d="M83.5,136.0 L84.3,140.7 L86.8,152.7 L89.4,169.8 L91.6,190.3 L92.8,196.4 L94.0,199.3 L95.0,209.3 L96.0,223.5 L97.4,234.9 L98.3,244.9 L99.0,259.2 L100.0,274.9 L101.1,292.0 L101.7,317.0 L102.8,338.4 L104.0,359.8 L105.0,377.2" fill="none" stroke="#808000" stroke-width="3.2" stroke-linejoin="round" stroke-linecap="round" clip-path="url(#clipA)"/>
<path d="M169.1,377.2 L169.8,368.4 L171.3,365.5 L173.4,366.2 L175.3,362.7 L177.0,363.0 L178.4,366.9 L180.5,370.5 L182.0,377.2" fill="none" stroke="#808000" stroke-width="3.2" stroke-linejoin="round" stroke-linecap="round" clip-path="url(#clipA)"/>
<path d="M372.1,377.2 L373.1,368.4 L374.3,357.0 L375.7,342.7 L377.1,328.4 L378.8,314.2 L380.7,301.4 L382.5,288.5 L384.2,278.5 L386.4,272.1 L388.5,269.3 L390.7,268.6 L392.1,274.3 L393.1,267.1 L394.2,268.6 L395.6,274.3 L397.4,282.8 L398.8,285.0 L399.9,295.6 L401.1,309.9 L402.1,327.0 L403.1,339.9 L403.9,354.1 L404.9,368.4 L405.6,377.2" fill="none" stroke="#808000" stroke-width="3.2" stroke-linejoin="round" stroke-linecap="round" clip-path="url(#clipA)"/>
<path d="M449.5,377.2 L451.0,368.4 L452.4,359.8 L454.1,352.7 L455.5,348.4 L456.7,357.0 L457.7,368.4 L458.7,377.2" fill="none" stroke="#808000" stroke-width="3.2" stroke-linejoin="round" stroke-linecap="round" clip-path="url(#clipA)"/>
<path d="M465.9,377.2 L466.2,366.9 L466.7,345.6 L467.2,324.2 L467.7,302.8 L468.4,281.4 L468.7,259.2 L469.5,237.8 L470.5,223.5 L471.5,209.3 L472.4,195.0 L472.4,186.9 L473.8,171.5 L475.0,156.1 L476.3,142.4 L477.5,130.4 L478.9,120.2 L480.6,115.0 L481.8,109.9 L483.2,101.3 L484.4,94.5 L486.1,91.9 L487.5,87.6 L488.7,85.1 L490.4,89.4 L492.9,90.2 L495.5,91.9 L497.2,97.9 L498.9,104.8 L500.6,113.3 L501.8,123.6 L502.9,135.6 L504.1,145.8 L505.3,156.1 L506.3,171.5 L507.0,185.2 L507.0,205.0 L508.4,225.5 L510.0,246.0 L511.7,266.6 L512.5,287.1 L513.1,307.6 L513.7,328.1 L514.1,348.6 L514.5,369.2 L514.8,377.4" fill="none" stroke="#808000" stroke-width="3.2" stroke-linejoin="round" stroke-linecap="round" clip-path="url(#clipA)"/>
<path d="M513.1,378.0 L515.2,348.6 L516.2,307.6 L517.8,276.8 L519.3,256.3 L520.3,246.0 L521.9,243.0 L523.4,235.8 L524.8,230.7 L526.5,237.8 L528.0,246.0 L529.5,252.0" fill="none" stroke="#808000" stroke-width="3.2" stroke-linejoin="round" stroke-linecap="round" clip-path="url(#clipA)"/>
<path d="M84.4,350.0 L85.0,365.0 L86.0,378.0" fill="none" stroke="#800080" stroke-width="3.2" stroke-linejoin="round" stroke-linecap="round" clip-path="url(#clipA)"/>
<path d="M107.1,377.2 L107.8,366.9 L109.2,352.7 L110.7,339.9 L112.1,334.1 L113.1,337.0 L113.9,322.7 L114.9,312.8 L116.4,310.6 L117.8,311.3 L119.2,309.2 L120.2,309.9 L121.1,317.0 L122.1,322.7 L123.5,334.1 L124.5,351.3 L125.3,368.4 L125.9,377.2" fill="none" stroke="#800080" stroke-width="3.2" stroke-linejoin="round" stroke-linecap="round" clip-path="url(#clipA)"/>
<path d="M132.5,377.2 L133.0,352.7 L133.6,331.3 L134.2,319.2 L135.3,318.5 L136.3,331.3 L137.0,333.4 L137.5,319.9 L137.9,306.3 L139.0,307.8 L140.2,313.5 L141.3,317.0 L142.5,334.1 L143.5,357.0 L144.2,377.2" fill="none" stroke="#800080" stroke-width="3.2" stroke-linejoin="round" stroke-linecap="round" clip-path="url(#clipA)"/>
<path d="M142.0,378.0 L145.0,320.0 L148.2,269.1 L148.9,254.9 L149.9,237.8 L150.9,223.5 L151.7,207.8 L152.7,195.0 L153.2,176.6 L154.8,152.7 L156.7,130.4 L158.7,118.4 L160.4,99.6 L162.6,88.5 L164.7,79.1 L167.3,71.4 L169.3,67.6 L170.7,66.6 L172.4,67.6 L174.1,71.4 L175.5,78.2 L177.9,84.2 L179.2,94.5 L181.0,104.8 L182.7,115.0 L184.4,130.4 L185.7,145.8 L187.5,159.5 L188.7,180.0 L189.1,195.0 L189.8,209.3 L190.5,230.6 L191.2,252.0 L191.9,266.3 L192.6,280.6 L192.6,288.5 L193.8,309.9 L194.8,331.3 L195.5,348.4 L195.9,359.8 L196.2,339.9 L196.2,324.2 L196.6,302.8 L197.2,278.5 L198.4,268.6 L196.9,274.9 L198.4,259.2 L199.5,242.1 L200.9,226.4 L201.9,217.8 L204.1,216.4 L205.5,215.0 L207.6,210.0 L209.0,216.4 L210.5,217.8 L211.5,223.5 L212.3,237.8 L214.0,241.3 L215.2,252.0 L216.2,266.3 L217.6,274.9 L218.3,287.7 L219.5,299.9 L221.2,308.5 L221.9,319.9 L222.6,331.3 L223.3,345.6 L224.0,359.8 L224.7,377.2" fill="none" stroke="#800080" stroke-width="3.2" stroke-linejoin="round" stroke-linecap="round" clip-path="url(#clipA)"/>
<path d="M268.5,377.2 L269.9,371.2 L271.6,366.2 L273.5,363.0 L275.6,364.1 L277.7,366.9 L279.6,371.2 L281.0,377.2" fill="none" stroke="#800080" stroke-width="3.2" stroke-linejoin="round" stroke-linecap="round" clip-path="url(#clipA)"/>
<path d="M516.5,378.0 L517.8,367.1 L519.3,363.4 L520.7,364.0 L521.9,369.2 L523.4,371.2 L524.5,378.0" fill="none" stroke="#800080" stroke-width="3.2" stroke-linejoin="round" stroke-linecap="round" clip-path="url(#clipA)"/>
<path d="M84.6,344.0 L87.5,362.0 L90.0,378.0" fill="none" stroke="#ff00ff" stroke-width="3.2" stroke-linejoin="round" stroke-linecap="round" clip-path="url(#clipA)"/>
<path d="M165.6,377.2 L166.7,365.5 L167.7,351.3 L168.7,339.9 L169.8,334.1 L171.3,317.0 L172.7,307.1 L174.1,299.9 L176.2,292.8 L178.4,289.2 L179.8,292.1 L182.0,295.6 L183.8,301.4 L184.8,307.1 L186.2,315.6 L187.7,321.3 L189.5,325.6 L190.5,339.9 L191.5,357.0 L192.6,371.2 L193.4,377.2" fill="none" stroke="#ff00ff" stroke-width="3.2" stroke-linejoin="round" stroke-linecap="round" clip-path="url(#clipA)"/>
<path d="M215.5,377.2 L216.6,366.9 L217.2,360.5 L218.6,359.8 L219.5,351.3 L220.5,342.7 L221.5,335.6 L222.6,339.9 L223.3,348.4 L224.0,359.8 L225.2,371.2 L225.7,377.2" fill="none" stroke="#ff00ff" stroke-width="3.2" stroke-linejoin="round" stroke-linecap="round" clip-path="url(#clipA)"/>
<path d="M232.1,377.2 L233.1,359.8 L234.0,339.9 L235.0,317.0 L235.7,305.6 L237.4,304.2 L238.3,295.6 L239.2,285.7 L240.7,283.5 L241.7,277.1 L242.8,275.0 L244.0,280.0 L245.0,291.4 L246.0,307.1 L247.1,324.2 L248.2,345.6 L249.2,362.7 L250.2,377.2" fill="none" stroke="#ff00ff" stroke-width="3.2" stroke-linejoin="round" stroke-linecap="round" clip-path="url(#clipA)"/>
<path d="M253.4,377.2 L253.7,366.9 L254.2,345.6 L254.8,324.2 L255.4,302.8 L255.9,281.4 L255.6,242.1 L256.8,223.5 L257.8,209.3 L258.8,195.0 L258.7,183.5 L259.9,168.1 L261.1,152.7 L262.5,135.6 L263.7,121.9 L265.1,109.9 L266.8,97.9 L268.5,87.6 L270.2,79.1 L271.9,74.8 L274.1,72.2 L276.2,67.1 L278.3,71.4 L280.5,77.4 L282.2,82.5 L284.4,86.8 L285.6,96.2 L287.3,104.8 L289.0,118.4 L290.2,132.1 L291.6,145.8 L293.0,159.5 L294.2,176.6 L295.0,192.0 L295.6,202.1 L296.7,216.4 L297.0,237.8 L297.7,256.3 L298.1,269.1 L299.1,283.4 L298.4,302.8 L299.6,324.2 L300.6,345.6 L301.6,365.5 L302.3,377.2 L302.4,379.8 L302.6,377.2 L303.4,352.7 L304.1,328.4 L304.8,302.8 L305.6,285.7 L306.7,271.4 L307.0,269.1 L308.4,267.7 L310.5,259.2 L312.0,249.2 L313.4,240.3 L314.8,243.5 L316.7,246.3 L318.4,248.5 L319.1,259.2 L319.8,272.0 L320.5,280.6 L320.1,280.0 L321.5,281.4 L322.4,295.6 L323.4,309.9 L324.4,324.2 L325.2,338.4 L325.8,352.7 L326.7,366.9 L327.2,377.2" fill="none" stroke="#ff00ff" stroke-width="3.2" stroke-linejoin="round" stroke-linecap="round" clip-path="url(#clipA)"/>
<path d="M484.8,377.5 L486.2,374.9 L488.3,377.5" fill="none" stroke="#ff00ff" stroke-width="3.2" stroke-linejoin="round" stroke-linecap="round" clip-path="url(#clipA)"/>
<path d="M188.4,377.5 L190.5,374.9 L192.6,377.5" fill="none" stroke="#808080" stroke-width="3.2" stroke-linejoin="round" stroke-linecap="round" clip-path="url(#clipA)"/>
<path d="M267.8,377.2 L268.5,365.5 L269.2,352.7 L269.9,339.9 L270.6,327.0 L272.0,317.0 L273.5,302.8 L274.9,288.5 L276.3,275.7 L277.0,273.4 L278.2,262.0 L279.9,252.0 L281.6,243.5 L283.5,237.8 L285.3,232.8 L287.3,230.6 L289.2,231.8 L290.9,231.4 L292.4,236.4 L293.9,240.6 L295.6,247.8 L297.0,254.9 L298.4,263.4 L299.1,274.3 L300.6,288.5 L302.0,307.1 L303.4,327.0 L304.4,345.6 L305.6,362.7 L306.7,377.2" fill="none" stroke="#808080" stroke-width="3.2" stroke-linejoin="round" stroke-linecap="round" clip-path="url(#clipA)"/>
<path d="M336.9,377.2 L338.1,368.4 L339.1,352.7 L340.1,331.3 L340.9,314.2 L341.9,297.1 L342.9,282.8 L344.3,271.4 L345.2,264.9 L346.9,257.7 L348.3,249.2 L349.8,242.1 L351.2,233.5 L351.9,229.2 L353.3,229.2 L354.0,237.8 L355.2,249.2 L356.2,259.2 L357.6,262.0 L358.6,274.9 L359.5,287.7 L359.7,317.0 L360.5,351.3 L361.2,374.1 L361.5,377.2" fill="none" stroke="#808080" stroke-width="3.2" stroke-linejoin="round" stroke-linecap="round" clip-path="url(#clipA)"/>
<path d="M364.3,377.2 L364.7,366.9 L365.2,345.6 L365.7,324.2 L366.2,302.8 L366.6,281.4 L366.9,266.3 L367.6,244.9 L368.3,223.5 L368.3,220.7 L369.3,209.3 L370.0,195.0 L370.7,185.2 L371.7,169.8 L372.9,152.7 L373.7,143.3 L375.4,135.6 L376.3,123.6 L377.5,111.6 L379.2,101.3 L380.6,92.8 L382.3,85.1 L384.5,79.9 L387.1,74.8 L388.9,79.4 L391.1,80.8 L393.3,85.1 L395.4,91.1 L397.1,97.9 L398.8,106.5 L400.2,116.7 L401.4,130.4 L402.8,140.7 L404.0,152.7 L404.8,166.4 L405.7,180.0 L406.5,192.0 L407.9,203.6 L408.5,216.4 L409.6,230.6 L410.6,244.9 L411.6,259.2 L412.3,274.3 L412.8,288.5 L413.5,324.2 L413.9,352.7 L414.2,377.2" fill="none" stroke="#808080" stroke-width="3.2" stroke-linejoin="round" stroke-linecap="round" clip-path="url(#clipA)"/>
<path d="M417.7,377.2 L419.2,357.0 L420.6,334.1 L422.0,315.6 L423.5,317.7 L424.9,316.8 L426.3,322.7 L427.7,331.3 L429.4,338.1 L430.9,347.0 L431.7,359.8 L432.7,377.2" fill="none" stroke="#808080" stroke-width="3.2" stroke-linejoin="round" stroke-linecap="round" clip-path="url(#clipA)"/>
<path d="M437.0,377.2 L438.1,369.8 L439.1,365.5 L440.1,351.3 L441.0,334.1 L441.6,317.0 L442.4,302.8 L444.1,292.8 L445.3,278.5 L446.7,273.5 L448.1,277.1 L449.5,277.8 L450.5,281.4 L452.7,282.1 L453.4,291.4 L454.8,302.8 L456.2,308.5 L458.1,315.6 L459.1,322.7 L460.5,331.3 L461.5,345.6 L462.4,362.7 L463.0,377.2" fill="none" stroke="#808080" stroke-width="3.2" stroke-linejoin="round" stroke-linecap="round" clip-path="url(#clipA)"/>
<path d="M474.1,377.2 L475.2,368.4 L476.9,362.7 L478.1,345.6 L479.1,334.1 L480.9,328.4 L482.6,324.2 L484.3,320.6 L486.2,319.9 L488.3,317.7 L489.8,314.9 L491.5,311.3 L493.3,314.9 L495.5,314.2 L497.2,317.0 L499.0,319.9 L500.5,328.4 L501.9,339.9 L503.7,352.7 L505.4,365.5 L507.6,374.1 L509.0,377.2" fill="none" stroke="#808080" stroke-width="3.2" stroke-linejoin="round" stroke-linecap="round" clip-path="url(#clipA)"/>
<path d="M333.4,377.2 L334.8,372.6 L336.2,365.5 L337.6,357.0 L339.1,347.0 L340.1,338.4 L341.2,332.7 L343.3,332.0 L344.8,328.4 L346.6,325.6 L348.0,327.0 L349.5,331.3 L350.9,335.6 L352.3,339.9 L352.9,351.3 L353.8,365.5 L355.5,368.4 L356.6,377.2" fill="none" stroke="#ff1493" stroke-width="3.2" stroke-linejoin="round" stroke-linecap="round" clip-path="url(#clipA)"/>
<path d="M387.8,377.2 L388.5,359.8 L389.7,339.9 L390.7,321.3 L392.1,307.1 L393.5,288.5 L394.9,274.3 L396.4,264.3 L396.4,257.7 L397.8,249.2 L399.2,239.2 L400.6,232.1 L402.1,229.2 L403.5,236.4 L404.9,234.2 L406.3,237.8 L407.3,247.8 L408.8,256.3 L409.3,265.7 L409.9,281.4 L411.0,297.1 L412.0,317.0 L413.0,334.1 L413.9,348.4 L414.9,353.4 L416.3,345.6 L417.0,324.2 L417.7,302.8 L418.5,281.4 L419.0,264.3 L418.7,259.2 L419.2,242.1 L419.9,223.5 L420.6,209.3 L421.6,195.0 L421.9,185.2 L422.8,168.1 L423.6,152.7 L424.8,149.2 L425.9,135.6 L427.1,121.9 L428.4,111.6 L430.0,104.8 L431.3,100.5 L432.2,91.1 L433.4,83.4 L435.1,79.9 L436.8,73.1 L439.0,74.0 L441.6,70.5 L442.5,76.5 L444.7,78.2 L445.9,85.9 L447.1,90.2 L449.3,91.1 L450.5,99.6 L451.5,109.9 L452.2,121.9 L453.2,133.8 L454.9,142.4 L456.1,156.1 L457.0,169.8 L457.9,183.5 L459.1,200.1 L459.8,206.4 L461.0,223.5 L461.7,244.9 L462.7,263.4 L463.8,280.6 L464.4,294.8 L464.4,317.0 L464.9,338.4 L465.5,359.8 L465.8,377.2" fill="none" stroke="#ff1493" stroke-width="3.2" stroke-linejoin="round" stroke-linecap="round" clip-path="url(#clipA)"/>
<path d="M470.1,377.2 L470.9,359.8 L471.6,339.9 L472.4,319.9 L472.9,304.2 L474.1,297.8 L475.8,299.2 L476.9,299.9 L478.4,297.8 L479.1,307.1 L479.8,321.3 L480.9,337.0 L481.9,351.3 L482.9,365.5 L484.1,377.2" fill="none" stroke="#ff1493" stroke-width="3.2" stroke-linejoin="round" stroke-linecap="round" clip-path="url(#clipA)"/>
<path d="M489.0,377.2 L490.5,365.5 L491.5,351.3 L492.6,334.1 L493.8,317.0 L495.2,302.8 L496.6,288.5 L497.6,287.1 L498.6,286.4 L499.7,278.5 L500.9,272.1 L502.2,267.1 L503.3,272.1 L504.7,276.4 L506.2,279.2 L507.6,285.0 L510.4,297.3 L511.7,311.7 L512.5,328.1 L513.3,348.7 L514.1,369.2 L514.5,378.0" fill="none" stroke="#ff1493" stroke-width="3.2" stroke-linejoin="round" stroke-linecap="round" clip-path="url(#clipA)"/>
<path d="M524.8,378.0 L526.0,358.9 L526.9,344.5 L529.0,328.0" fill="none" stroke="#ff1493" stroke-width="3.2" stroke-linejoin="round" stroke-linecap="round" clip-path="url(#clipA)"/>
<path d="M121.6,377.2 L122.5,366.9 L123.5,358.4 L125.6,354.8 L127.1,349.8 L128.5,342.7 L129.9,338.7 L132.0,338.4 L133.9,339.9 L135.3,345.6 L136.8,354.1 L138.2,359.8 L139.6,366.9 L141.0,374.1 L141.7,377.2" fill="none" stroke="#ff0000" stroke-width="3.2" stroke-linejoin="round" stroke-linecap="round" clip-path="url(#clipA)"/>
<path d="M230.0,377.2 L231.4,365.5 L232.8,352.7 L234.3,341.3 L235.7,334.1 L237.4,329.9 L238.5,322.7 L240.2,317.0 L242.1,314.9 L243.5,314.2 L245.0,317.0 L246.0,327.0 L247.1,331.3 L248.5,337.0 L250.7,345.6 L252.5,354.1 L253.5,358.4 L254.2,371.2 L254.5,377.2" fill="none" stroke="#ff0000" stroke-width="3.2" stroke-linejoin="round" stroke-linecap="round" clip-path="url(#clipA)"/>
<path d="M284.5,377.2 L284.9,368.4 L285.9,351.3 L286.7,334.1 L287.7,317.0 L288.4,299.9 L289.6,282.8 L290.2,279.1 L291.3,274.9 L292.0,259.2 L293.0,242.1 L294.1,230.6 L296.3,226.4 L297.7,219.2 L298.7,206.4 L299.9,199.3 L301.0,209.3 L302.4,212.1 L304.1,212.8 L305.6,217.8 L307.3,226.4 L308.4,237.8 L309.1,252.0 L309.8,266.3 L309.8,274.3 L310.5,288.5 L311.3,309.9 L312.0,328.4 L312.4,341.3 L313.0,342.0 L313.4,328.4 L314.1,309.9 L314.8,288.5 L315.5,274.3 L314.8,263.4 L315.8,252.0 L317.0,237.8 L318.1,223.5 L318.8,209.3 L319.5,195.0 L319.3,185.2 L320.7,166.4 L321.9,149.2 L322.9,133.8 L324.1,118.4 L324.6,110.7 L326.2,108.2 L327.2,99.6 L328.9,90.2 L331.0,80.8 L333.2,72.2 L335.2,70.9 L337.5,69.2 L339.5,71.4 L341.6,75.7 L342.9,82.5 L345.5,87.6 L347.2,97.9 L348.9,109.9 L350.6,123.6 L351.8,139.0 L353.2,154.4 L354.6,169.8 L355.9,185.2 L357.0,200.1 L357.2,209.3 L358.0,223.5 L359.0,242.1 L360.0,259.2 L360.9,274.9 L361.9,292.0 L361.5,302.8 L362.3,324.2 L363.0,345.6 L364.0,366.9 L364.6,374.1 L365.0,374.8 L367.1,371.2 L368.3,359.8 L368.8,345.6 L369.7,331.3 L370.7,325.6 L372.1,322.0 L373.1,328.4 L374.0,339.9 L375.0,351.3 L376.0,359.8 L376.8,351.3 L377.4,350.1 L378.3,354.1 L379.2,365.5 L380.2,377.2" fill="none" stroke="#ff0000" stroke-width="3.2" stroke-linejoin="round" stroke-linecap="round" clip-path="url(#clipA)"/>
<path d="M388.5,377.2 L389.2,359.8 L389.9,339.9 L390.7,324.2 L392.1,322.7 L393.1,328.4 L394.2,327.0 L394.9,314.2 L395.6,301.4 L397.4,302.1 L398.8,305.6 L399.9,299.9 L401.4,296.8 L402.5,301.4 L403.5,314.2 L404.5,328.4 L405.3,321.3 L406.3,319.9 L407.3,331.3 L408.5,345.6 L409.6,359.8 L410.6,371.2 L411.3,377.2" fill="none" stroke="#ff0000" stroke-width="3.2" stroke-linejoin="round" stroke-linecap="round" clip-path="url(#clipA)"/>
<path d="M423.5,377.2 L424.5,365.5 L425.6,351.3 L427.0,337.0 L428.7,324.2 L430.6,314.2 L432.4,304.2 L434.1,297.8 L436.3,294.2 L438.1,292.1 L439.9,294.2 L441.3,292.8 L442.7,297.8 L444.4,302.1 L445.6,305.6 L446.3,314.2 L447.7,318.5 L449.1,320.6 L450.1,331.3 L451.3,342.7 L452.4,354.1 L453.4,365.5 L454.4,374.1 L455.3,377.2" fill="none" stroke="#ff0000" stroke-width="3.2" stroke-linejoin="round" stroke-linecap="round" clip-path="url(#clipA)"/>
<path d="M117.1,377.2 L118.2,365.5 L119.2,352.7 L120.6,337.0 L122.1,324.2 L123.9,314.2 L125.6,305.6 L127.8,297.8 L129.6,293.1 L131.3,292.5 L132.8,295.6 L134.5,301.4 L136.3,307.1 L137.7,312.0 L139.2,317.0 L140.2,328.4 L141.0,339.9 L142.0,352.7 L142.7,365.5 L143.5,377.2" fill="none" stroke="#00ff00" stroke-width="3.2" stroke-linejoin="round" stroke-linecap="round" clip-path="url(#clipA)"/>
<path d="M157.0,377.2 L158.1,365.5 L159.9,362.7 L161.0,351.3 L161.6,341.3 L163.0,332.7 L164.1,324.2 L165.6,321.3 L167.0,318.5 L168.4,317.7 L169.1,324.2 L169.8,334.1 L170.5,345.6 L171.3,359.8 L172.4,377.2" fill="none" stroke="#00ff00" stroke-width="3.2" stroke-linejoin="round" stroke-linecap="round" clip-path="url(#clipA)"/>
<path d="M183.4,377.2 L184.1,359.8 L184.8,339.9 L185.5,319.9 L186.2,307.1 L187.2,295.6 L188.1,289.9 L189.5,287.8 L190.5,281.4 L191.9,272.8 L192.9,271.1 L194.1,274.3 L194.8,287.1 L195.5,299.9 L196.2,317.0 L196.6,339.9 L197.2,359.8 L197.6,377.2" fill="none" stroke="#00ff00" stroke-width="3.2" stroke-linejoin="round" stroke-linecap="round" clip-path="url(#clipA)"/>
<path d="M199.8,377.2 L200.5,359.8 L201.2,338.4 L201.9,317.0 L202.9,295.6 L203.8,274.3 L203.8,259.2 L204.8,242.1 L205.5,226.4 L206.6,209.3 L207.6,195.0 L208.0,174.9 L209.5,152.7 L210.9,132.1 L212.6,113.3 L214.3,101.3 L216.0,89.4 L218.3,78.2 L220.0,69.1 L221.7,71.3 L222.8,68.6 L224.2,70.2 L225.3,66.3 L226.4,71.3 L227.2,74.1 L228.7,71.3 L229.8,74.7 L230.9,80.2 L232.8,80.8 L233.8,91.1 L236.0,104.8 L237.7,118.4 L238.9,132.1 L240.3,147.5 L241.6,162.9 L243.0,176.6 L242.8,195.0 L244.0,209.3 L245.0,230.6 L245.7,252.0 L246.4,273.4 L246.8,302.8 L247.8,324.2 L248.5,345.6 L249.2,366.9 L249.7,377.2 L249.9,379.8 L250.2,377.2 L250.8,366.9 L251.7,345.6 L252.5,324.2 L253.7,302.8 L254.6,281.4 L253.9,269.1 L254.9,252.0 L256.4,237.8 L257.8,227.8 L259.2,225.7 L260.6,227.8 L261.6,220.7 L262.8,221.4 L264.2,222.1 L265.3,229.2 L267.1,221.4 L268.2,227.8 L269.2,240.6 L269.9,252.0 L271.0,259.2 L271.6,274.3 L272.8,288.5 L273.9,302.8 L274.9,317.0 L275.3,331.3 L275.9,348.4 L276.5,365.5 L277.0,377.2" fill="none" stroke="#00ff00" stroke-width="3.2" stroke-linejoin="round" stroke-linecap="round" clip-path="url(#clipA)"/>
<path d="M308.4,377.2 L310.1,372.6 L311.3,365.5 L312.4,362.0 L313.8,366.9 L315.3,366.2 L316.2,359.8 L317.7,354.1 L318.7,361.2 L320.1,362.0 L321.2,368.4 L322.4,375.5 L323.0,377.2" fill="none" stroke="#00ff00" stroke-width="3.2" stroke-linejoin="round" stroke-linecap="round" clip-path="url(#clipA)"/>
<path d="M417.7,377.2 L419.9,372.6 L422.0,365.5 L423.9,361.2 L425.6,359.8 L427.0,364.1 L428.7,369.8 L430.6,375.5 L432.0,377.2" fill="none" stroke="#00ff00" stroke-width="3.2" stroke-linejoin="round" stroke-linecap="round" clip-path="url(#clipA)"/>
<path d="M523.4,378.0 L524.8,369.2 L526.5,363.0 L529.0,358.5" fill="none" stroke="#00ff00" stroke-width="3.2" stroke-linejoin="round" stroke-linecap="round" clip-path="url(#clipA)"/>
<path d="M84.4,347.0 L85.1,331.3 L86.0,302.8 L86.4,281.4 L87.1,276.4 L88.3,284.2 L89.7,285.7 L91.1,289.9 L92.1,297.1 L92.8,307.1 L93.5,324.2 L94.3,339.9 L95.4,359.8 L96.4,377.2" fill="none" stroke="#0000ff" stroke-width="3.2" stroke-linejoin="round" stroke-linecap="round" clip-path="url(#clipA)"/>
<path d="M96.8,377.2 L97.4,359.8 L98.3,331.3 L98.5,301.9 L99.2,280.6 L100.0,266.3 L100.7,252.0 L101.4,237.8 L102.1,223.5 L102.8,209.3 L103.5,195.0 L104.5,169.8 L106.0,147.5 L107.4,130.4 L108.7,118.4 L110.5,106.5 L111.8,98.8 L113.4,88.5 L113.7,82.8 L115.1,78.2 L116.6,74.1 L118.2,70.9 L119.8,68.7 L121.2,67.5 L122.8,68.4 L124.2,69.1 L125.3,71.4 L126.0,74.6 L126.7,76.9 L127.8,77.8 L128.5,81.4 L129.2,85.1 L130.3,89.6 L131.5,94.7 L131.8,99.6 L133.4,111.6 L134.8,123.6 L136.5,135.6 L137.8,152.7 L139.0,169.8 L140.0,203.6 L141.0,223.5 L142.0,244.9 L142.7,266.3 L143.6,287.7 L144.5,309.1 L145.0,320.1 L144.9,338.4 L145.3,359.8 L145.6,377.2 L145.7,379.8 L145.9,377.2 L146.4,359.8 L147.0,338.4 L147.9,317.0 L148.7,295.6 L149.6,274.3 L150.2,263.4 L151.3,244.9 L152.4,230.6 L153.4,223.5 L154.4,219.2 L155.6,216.4 L156.7,226.4 L157.7,220.0 L159.1,220.7 L159.9,223.5 L161.6,222.8 L162.7,229.2 L164.4,232.8 L165.6,240.6 L166.7,252.0 L167.7,259.2 L168.7,263.4 L169.3,280.6 L169.8,281.4 L170.7,299.9 L171.5,317.0 L172.7,334.1 L173.8,351.3 L174.8,365.5 L175.5,377.2" fill="none" stroke="#0000ff" stroke-width="3.2" stroke-linejoin="round" stroke-linecap="round" clip-path="url(#clipA)"/>
<path d="M205.2,377.2 L206.2,374.1 L207.6,371.9 L209.0,369.1 L210.5,372.6 L212.3,371.9 L214.0,374.1 L215.2,377.2" fill="none" stroke="#0000ff" stroke-width="3.2" stroke-linejoin="round" stroke-linecap="round" clip-path="url(#clipA)"/>
<path d="M463.4,377.5 L465.5,376.4 L467.7,377.5" fill="none" stroke="#0000ff" stroke-width="3.2" stroke-linejoin="round" stroke-linecap="round" clip-path="url(#clipA)"/>
<path d="M503.3,377.6 L504.3,367.0 L505.7,345.6 L506.9,324.2 L508.0,302.8 L509.0,281.4 L510.0,260.0 L511.1,250.0 L513.1,231.7 L515.2,217.3 L516.9,203.0 L518.3,188.6 L519.5,180.0 L521.2,173.2 L523.7,168.9 L527.2,167.2 L529.0,167.0" fill="none" stroke="#0000ff" stroke-width="3.2" stroke-linejoin="round" stroke-linecap="round" clip-path="url(#clipA)"/>
</g>
<g id="curvesB">
<path d="M622.4,375.9 L624.2,370.5 L626.4,363.4 L628.5,357.7 L630.4,353.4 L631.8,343.4 L633.2,337.7 L634.7,333.4 L636.7,334.1 L637.8,326.3 L639.2,314.9 L640.6,303.5 L641.8,301.3 L643.2,303.5 L644.2,290.6 L645.2,280.7 L646.1,277.8 L647.1,285.7 L648.5,288.5 L650.3,285.7 L651.3,290.6 L652.8,299.2 L654.2,293.5 L655.6,292.4 L657.5,294.2 L658.9,298.5 L660.3,304.9 L661.8,313.5 L663.5,316.3 L665.2,319.2 L666.6,322.7 L667.5,329.1 L668.5,337.7 L670.6,339.1 L672.0,346.3 L673.4,354.8 L675.2,360.5 L677.0,365.5 L679.1,369.1 L681.3,373.4 L682.7,376.5" fill="none" stroke="#0000ff" stroke-width="3.2" stroke-linejoin="round" stroke-linecap="round" clip-path="url(#clipB)"/>
<path d="M713.8,376.5 L715.5,370.5 L717.6,364.8 L719.8,359.1 L721.6,354.8 L722.6,346.3 L724.1,334.9 L725.5,322.0 L726.9,310.6 L728.3,302.1 L730.5,292.1 L732.2,284.9 L733.3,272.1 L734.2,260.7 L734.1,254.1 L735.6,246.9 L737.0,243.0 L738.1,245.5 L739.1,251.9 L739.6,239.8 L740.1,225.6 L741.0,211.3 L741.6,201.3 L742.7,194.2 L743.8,189.9 L744.8,195.6 L745.8,201.3 L747.0,197.0 L748.1,192.8 L749.1,181.4 L749.8,165.7 L750.7,153.5 L751.5,165.7 L752.7,178.5 L753.8,187.1 L754.8,193.5 L755.8,189.9 L757.2,185.9 L758.1,194.2 L759.1,202.7 L759.8,214.1 L760.5,225.6 L761.5,237.0 L762.7,246.9 L763.8,255.5 L764.8,256.9 L766.7,255.5 L767.4,263.6 L768.5,272.1 L769.2,283.5 L769.9,296.4 L770.7,307.8 L771.7,316.3 L772.8,325.6 L775.4,326.3 L775.9,334.9 L776.8,343.4 L777.8,352.0 L779.2,360.5 L781.4,364.8 L782.8,369.1 L784.6,376.5" fill="none" stroke="#00ff00" stroke-width="3.2" stroke-linejoin="round" stroke-linecap="round" clip-path="url(#clipB)"/>
<path d="M668.2,376.5 L669.9,369.1 L671.3,360.5 L672.7,353.4 L674.6,347.7 L676.3,343.4 L678.4,339.1 L680.3,334.9 L682.0,326.3 L683.1,314.9 L684.6,302.8 L685.6,306.3 L687.0,303.5 L688.0,290.6 L689.1,280.7 L690.3,269.3 L691.0,256.0 L691.7,251.9 L693.1,261.5 L694.9,256.9 L695.9,251.2 L697.1,254.1 L698.2,262.0 L699.1,265.0 L700.5,269.3 L702.2,267.8 L703.4,276.4 L704.8,290.6 L706.0,280.7 L707.0,263.6 L707.5,246.2 L708.4,262.1 L709.1,280.7 L709.8,291.4 L710.8,279.2 L712.0,267.8 L713.1,275.0 L714.1,286.4 L715.1,289.9 L716.5,292.1 L717.6,304.9 L718.8,317.7 L721.2,317.0 L721.9,329.1 L723.1,340.6 L723.6,348.4 L725.5,347.7 L726.9,354.8 L728.8,361.9 L730.5,367.6 L732.6,373.4 L734.0,376.5" fill="none" stroke="#800080" stroke-width="3.2" stroke-linejoin="round" stroke-linecap="round" clip-path="url(#clipB)"/>
<path d="M808.6,376.5 L810.6,369.1 L812.4,361.9 L814.1,353.4 L815.6,344.8 L817.0,334.9 L818.1,322.0 L818.7,312.0 L819.6,307.0 L821.0,304.9 L822.0,299.2 L823.0,290.6 L824.1,279.2 L824.8,269.3 L825.3,260.7 L825.6,247.7 L826.3,236.3 L827.0,224.9 L827.7,213.4 L828.7,207.7 L829.9,200.6 L830.6,190.6 L831.3,176.4 L832.0,163.5 L832.7,152.1 L832.0,144.1 L832.7,132.7 L833.4,121.3 L834.1,111.3 L835.6,108.4 L837.0,104.1 L837.7,87.0 L838.4,69.9 L839.1,51.4 L839.9,43.5 L840.6,58.5 L841.3,84.2 L842.0,100.6 L842.7,84.2 L843.4,65.6 L844.1,56.4 L845.6,55.7 L847.0,59.9 L848.4,64.2 L849.8,58.5 L851.3,51.4 L853.0,43.5 L854.1,50.0 L855.3,58.5 L856.7,71.4 L857.7,81.3 L858.7,95.6 L859.5,109.9 L860.5,127.0 L861.5,141.2 L861.5,153.6 L862.0,159.3 L863.4,163.5 L864.8,168.5 L865.8,177.8 L866.9,187.8 L867.7,202.0 L868.1,216.3 L868.7,230.6 L869.5,244.8 L870.5,257.6 L870.5,266.4 L871.5,276.4 L872.6,286.4 L873.3,296.4 L874.7,303.5 L875.7,309.2 L877.6,316.3 L878.6,326.3 L879.7,339.1 L880.9,352.0 L881.9,364.8 L882.9,371.9 L884.4,376.5" fill="none" stroke="#ff0000" stroke-width="3.2" stroke-linejoin="round" stroke-linecap="round" clip-path="url(#clipB)"/>
<path d="M755.4,376.5 L757.1,370.5 L759.2,369.8 L760.7,363.4 L762.8,357.7 L764.5,353.4 L765.7,343.4 L767.1,332.0 L768.2,319.2 L769.2,304.9 L770.7,290.6 L772.5,279.2 L774.2,269.3 L775.6,259.3 L776.0,247.7 L777.1,233.4 L778.3,219.1 L779.2,206.3 L780.0,198.5 L782.1,198.5 L783.1,193.5 L784.2,187.8 L785.4,182.1 L786.4,176.4 L787.8,175.7 L788.8,180.6 L789.9,180.6 L790.2,166.4 L790.7,153.6 L789.9,141.2 L790.7,127.0 L791.4,115.6 L793.1,117.0 L794.2,122.7 L795.9,132.0 L797.1,121.3 L798.2,111.3 L799.6,115.6 L801.1,122.7 L801.6,132.7 L802.5,144.1 L802.5,153.6 L803.5,163.5 L804.5,174.9 L805.6,186.4 L806.8,197.8 L807.8,209.2 L808.8,222.0 L809.6,233.4 L811.0,242.0 L812.5,250.5 L813.0,259.1 L813.0,266.4 L813.9,277.8 L814.4,289.2 L815.6,300.6 L816.3,312.0 L818.1,312.7 L819.1,317.7 L820.1,326.3 L821.3,337.7 L822.0,347.7 L823.0,359.8 L825.3,357.0 L826.7,361.9 L828.1,369.1 L830.0,376.5" fill="none" stroke="#ff00ff" stroke-width="3.2" stroke-linejoin="round" stroke-linecap="round" clip-path="url(#clipB)"/>
<path d="M906.8,376.5 L909.2,369.1 L911.0,360.5 L912.8,350.5 L914.5,340.6 L916.3,330.6 L917.7,317.7 L918.7,306.3 L919.9,294.9 L921.0,282.1 L922.0,270.7 L922.7,262.1 L922.8,259.1 L923.5,251.2 L925.6,249.8 L926.3,242.0 L927.3,230.6 L928.2,219.1 L929.2,206.3 L930.2,193.5 L931.3,180.6 L932.5,166.4 L933.5,153.6 L934.2,144.1 L935.3,129.8 L936.3,118.4 L937.3,110.6 L939.6,111.3 L939.9,98.4 L940.6,84.2 L941.3,69.9 L942.0,62.8 L943.7,59.9 L945.6,63.5 L946.3,71.4 L947.3,82.8 L948.4,92.7 L949.9,102.7 L952.7,102.7 L953.9,109.9 L955.3,118.4 L956.7,127.0 L958.1,132.7 L959.9,136.9 L960.6,144.1 L961.3,156.4 L962.0,167.8 L962.7,180.6 L963.4,193.5 L964.1,207.7 L964.8,222.0 L966.7,224.1 L967.3,233.4 L968.1,244.8 L968.7,256.2 L968.4,266.4 L969.1,276.4 L970.1,287.8 L971.2,302.8 L973.8,303.5 L974.4,312.0 L975.2,322.0 L976.2,333.4 L976.9,343.4 L978.1,354.8 L980.5,353.4 L981.2,360.5 L982.6,369.1 L984.1,374.1 L985.1,376.5" fill="none" stroke="#ff1493" stroke-width="3.2" stroke-linejoin="round" stroke-linecap="round" clip-path="url(#clipB)"/>
<path d="M857.4,376.5 L859.5,371.2 L861.5,368.4 L862.6,363.4 L863.8,352.0 L866.2,350.8 L867.2,343.4 L868.3,329.1 L869.5,312.0 L870.5,294.9 L871.5,277.8 L872.6,266.4 L873.8,253.4 L874.8,242.0 L875.8,230.6 L876.9,220.6 L878.4,213.4 L879.8,206.3 L880.9,199.2 L881.5,184.9 L881.9,170.7 L882.6,157.8 L882.9,146.9 L884.1,136.9 L885.2,132.0 L886.6,136.2 L887.2,127.0 L888.0,109.9 L889.0,91.3 L889.8,90.6 L890.5,101.3 L891.5,112.0 L892.6,101.3 L893.8,88.5 L895.5,87.7 L897.2,87.0 L898.6,85.6 L899.5,94.2 L900.5,107.0 L901.5,118.4 L902.6,129.8 L903.7,140.5 L904.7,129.8 L905.4,122.0 L906.2,132.7 L906.9,144.1 L906.4,153.6 L907.1,165.0 L907.8,173.5 L909.9,176.4 L910.7,187.8 L911.4,202.0 L912.1,216.3 L912.5,230.6 L913.5,244.8 L914.2,256.2 L916.8,253.4 L917.7,263.6 L918.5,275.0 L919.6,287.8 L920.6,300.6 L921.6,312.0 L922.7,323.4 L923.9,334.9 L925.3,346.3 L926.7,354.8 L928.2,361.9 L929.6,369.1 L931.3,374.1 L933.0,376.5" fill="none" stroke="#808080" stroke-width="3.2" stroke-linejoin="round" stroke-linecap="round" clip-path="url(#clipB)"/>
<path d="M961.7,376.5 L963.4,369.1 L965.5,363.4 L967.7,357.7 L969.5,352.0 L970.9,344.8 L972.6,336.3 L974.1,327.7 L975.2,316.3 L976.2,306.3 L977.2,297.8 L978.6,290.6 L980.1,284.9 L980.9,276.4 L981.5,266.4 L982.0,257.6 L983.0,242.0 L983.8,226.3 L984.8,212.0 L986.7,212.0 L988.1,214.9 L989.5,217.7 L990.1,202.0 L990.9,180.6 L991.5,163.5 L991.9,157.1 L992.9,166.4 L994.1,177.8 L995.2,189.2 L996.2,202.0 L996.9,187.8 L997.6,170.7 L998.4,153.6 L998.6,144.1 L999.5,153.6 L1000.5,170.7 L1001.2,186.4 L1002.3,170.7 L1003.3,170.7 L1004.1,182.1 L1004.8,196.3 L1005.5,207.0 L1006.6,196.3 L1007.6,192.1 L1008.6,197.8 L1009.8,204.9 L1011.2,212.0 L1012.6,219.1 L1014.0,230.6 L1015.5,242.0 L1016.6,253.4 L1017.6,263.4 L1018.1,277.3 L1018.9,289.2 L1021.7,290.3 L1023.9,295.7 L1025.4,309.6 L1026.2,319.2 L1027.0,338.3 L1027.8,355.9 L1030.2,357.5 L1031.8,362.3 L1033.4,368.6 L1034.7,377.5" fill="none" stroke="#808000" stroke-width="3.2" stroke-linejoin="round" stroke-linecap="round" clip-path="url(#clipB)"/>
</g>
<g id="curvesC">
<path d="M89.3,771.3 L89.6,770.6 L90.7,762.0 L92.1,752.0 L93.6,743.5 L95.3,736.3 L97.1,730.6 L98.5,727.8 L100.4,728.5 L101.4,733.5 L102.4,742.0 L103.5,748.5 L105.7,748.5 L107.8,746.3 L109.0,750.6 L110.4,757.7 L111.8,764.9 L113.2,769.1 L114.7,774.1 L116.4,774.8 L118.1,771.3 L119.2,774.8 L120.6,779.1 L122.1,783.4 L123.8,789.1 L125.2,786.2 L126.6,780.5 L127.8,774.8 L129.2,770.6 L130.6,763.4 L131.8,756.3 L132.8,749.2 L133.8,740.6 L134.9,730.6 L136.0,724.9 L137.0,724.2 L138.0,730.6 L138.9,742.0 L139.9,753.4 L140.9,757.7 L142.7,757.0 L143.7,759.1 L144.9,766.3 L146.0,772.7 L147.0,774.1 L148.5,769.1 L150.3,762.7 L151.7,754.9 L153.2,746.3 L154.2,742.7 L156.0,747.7 L157.4,743.5 L158.4,733.5 L159.4,730.3 L160.6,732.1 L161.7,736.3 L163.1,739.2 L164.6,734.9 L166.0,734.2 L167.7,736.3 L169.4,734.9 L171.3,737.0 L173.4,737.8 L175.5,734.2 L177.0,733.5 L178.8,737.0 L180.5,732.1 L182.0,728.5 L183.4,730.6 L184.8,727.8 L186.2,720.6 L188.0,717.1 L189.8,712.8 L191.2,711.4 L192.2,706.4 L193.4,704.7 L194.8,707.8 L196.2,709.2 L198.4,710.0 L199.4,714.9 L200.8,722.1 L202.2,727.8 L204.1,733.5 L205.9,737.5 L207.3,738.0 L208.8,733.5 L210.2,724.9 L211.9,723.5 L213.3,719.2 L214.8,714.2 L216.2,712.8 L217.6,715.7 L219.3,718.5 L221.2,721.4 L223.0,722.8 L224.7,723.5 L226.1,714.2 L227.6,704.2 L229.3,695.6 L231.0,689.9 L232.8,686.4 L234.7,685.4 L236.4,686.4 L238.1,687.8 L240.0,686.4 L241.8,681.4 L243.5,675.7 L245.0,672.1 L247.1,671.4 L248.5,672.1 L250.4,668.5 L252.4,668.5 L254.2,666.8 L255.2,664.3 L256.4,658.6 L257.8,652.9 L259.2,650.0 L260.4,648.9 L261.8,648.6 L263.5,649.4 L264.9,650.0 L266.4,650.7 L268.5,652.9 L269.9,655.0 L272.1,655.7 L274.2,657.8 L277.0,660.7 L279.2,658.6 L281.3,656.8 L283.5,657.1 L284.9,656.0 L287.0,657.8 L288.9,659.7 L290.9,658.8 L293.2,659.3 L295.2,660.3 L297.0,660.7 L298.9,658.6 L300.6,662.1 L302.7,665.0 L304.1,671.4 L305.1,678.5 L306.3,685.6 L307.7,694.2 L309.1,699.9 L310.6,704.9 L312.3,705.3 L313.7,702.8 L314.8,697.1 L316.0,689.9 L317.0,682.8 L318.0,674.2 L319.1,665.7 L320.3,657.8 L321.7,652.9 L323.4,656.4 L324.8,658.6 L326.0,664.3 L327.4,670.0 L328.8,675.0 L330.2,679.9 L331.9,679.9 L333.7,675.0 L334.8,678.5 L335.9,684.9 L337.4,692.1 L338.8,697.1 L340.2,698.5 L341.9,695.6 L343.6,698.5 L345.1,695.6 L346.2,691.4 L347.3,688.5 L348.3,681.4 L349.3,679.2 L351.2,680.7 L352.2,685.6 L353.3,689.9 L355.0,692.1 L357.3,692.1 L359.0,689.9 L361.1,681.3 L362.6,675.6 L364.3,672.5 L366.0,672.7 L367.4,678.4 L368.8,681.3 L370.3,684.1 L372.1,687.7 L374.0,688.7 L375.7,687.0 L377.1,682.7 L378.5,678.4 L380.0,675.9 L381.7,675.6 L383.5,676.3 L385.4,678.2 L387.1,681.3 L388.5,684.9 L390.2,687.7 L392.1,689.1 L393.9,688.4 L395.4,685.6 L396.8,684.9 L398.5,686.3 L400.2,682.7 L401.6,678.4 L403.1,674.2 L404.5,671.3 L405.9,669.9 L407.3,672.7 L408.8,675.3 L410.6,676.3 L412.8,677.0 L414.9,679.2 L417.0,680.6 L418.7,678.4 L419.9,672.7 L421.0,667.0 L422.0,663.5 L423.9,661.3 L425.6,659.2 L427.3,657.8 L428.7,654.2 L430.2,652.8 L432.0,653.5 L433.4,654.9 L435.3,652.8 L436.7,649.2 L438.1,646.4 L440.0,646.7 L442.1,647.2 L444.1,648.2 L445.6,646.7 L446.7,650.3 L447.7,655.4 L449.0,660.6 L450.3,663.6 L451.8,665.2 L453.3,664.1 L454.9,661.6 L456.4,658.0 L458.0,654.4 L459.5,650.3 L460.5,645.2 L461.6,640.5 L462.8,639.0 L464.1,640.5 L465.7,643.6 L467.2,646.2 L468.7,647.4 L470.8,647.7 L472.3,647.4 L473.4,645.2 L474.9,643.1 L476.4,641.1 L478.0,639.8 L480.0,639.0 L481.6,638.2 L483.1,639.0 L484.3,638.8 L485.7,635.9 L487.2,635.9 L488.7,636.4 L490.1,633.9 L491.1,630.8 L492.5,628.7 L494.4,627.5 L495.9,628.7 L497.5,629.6 L499.0,628.5 L500.6,627.9 L502.6,627.2 L504.1,628.7 L505.7,629.6 L507.2,629.2 L508.8,627.7 L509.8,625.1 L510.8,623.1 L511.8,622.1 L512.9,624.6 L513.4,628.7 L514.1,631.3 L515.4,632.0 L517.0,631.8 L518.0,634.4 L519.0,637.5 L520.6,639.5 L522.1,638.5 L523.3,636.4 L524.7,637.5 L525.7,635.4 L526.7,632.3 L527.7,629.8 L529.1,627.9 L530.3,626.9 L531.9,628.5" fill="none" stroke="#ff0000" stroke-width="3.2" stroke-linejoin="round" stroke-linecap="round" clip-path="url(#clipC)"/>
<path d="M89.3,719.9 L89.6,719.2 L91.4,713.5 L93.3,707.8 L95.3,702.8 L97.1,700.0 L99.0,698.5 L100.7,701.4 L102.4,699.3 L105.0,697.8 L107.1,700.0 L109.0,699.3 L110.7,701.4 L111.8,706.4 L112.8,716.4 L113.8,730.6 L114.7,742.0 L115.7,752.0 L117.1,757.7 L118.5,763.4 L120.4,769.1 L121.8,767.0 L123.5,762.0 L124.6,753.4 L125.6,744.9 L126.6,737.8 L127.8,732.1 L128.9,732.8 L129.9,737.8 L130.9,743.5 L132.1,746.3 L133.5,742.0 L134.9,739.9 L136.3,742.0 L138.5,742.7 L140.3,740.6 L141.8,737.8 L142.3,729.2 L143.2,720.6 L144.2,719.2 L146.0,722.1 L147.7,723.2 L149.9,722.1 L151.3,716.4 L152.7,712.1 L154.2,710.4 L155.6,714.2 L157.7,714.9 L159.9,712.1 L162.0,714.9 L164.1,716.4 L166.3,717.1 L167.7,713.5 L169.1,711.4 L170.6,714.2 L172.7,714.2 L174.5,710.7 L176.3,707.8 L178.4,705.0 L179.8,703.5 L180.8,699.3 L182.0,696.4 L183.7,695.7 L185.5,692.1 L187.4,694.3 L189.1,695.0 L191.2,696.4 L193.1,697.1 L194.8,696.4 L196.2,700.7 L197.9,700.0 L199.8,698.5 L201.6,696.4 L203.4,692.1 L205.1,688.6 L206.9,686.4 L208.8,687.1 L210.5,689.3 L211.9,693.6 L213.3,698.5 L215.0,702.1 L216.9,707.1 L218.3,711.4 L219.7,714.2 L221.2,715.7 L222.6,711.4 L224.5,711.4 L226.2,712.1 L228.3,713.5 L229.7,715.7 L231.9,715.7 L233.3,719.2 L236.1,725.3 L237.5,722.7 L239.0,714.2 L240.0,711.3 L241.5,705.1 L243.1,701.5 L244.6,704.1 L246.0,708.2 L247.2,710.3 L248.7,711.3 L249.7,717.4 L250.8,724.6 L251.5,732.8 L252.3,741.1 L253.1,747.2 L254.4,748.7 L255.9,749.3 L256.9,745.2 L258.0,744.6 L259.0,747.7 L260.5,749.8 L261.8,751.3 L262.6,755.9 L263.6,760.6 L265.1,761.6 L266.5,765.2 L267.7,768.2 L269.2,770.3 L270.3,766.7 L271.0,759.5 L271.8,751.3 L272.6,743.1 L273.7,734.9 L274.9,729.8 L275.9,732.8 L277.2,733.4 L278.5,731.8 L279.5,735.4 L280.5,738.0 L282.1,738.5 L283.1,744.1 L284.1,750.3 L285.4,755.4 L286.7,758.5 L288.0,758.0 L288.7,762.6 L289.8,764.1 L290.8,761.6 L291.5,767.7 L292.9,772.9 L294.4,777.0 L295.9,781.1 L297.3,780.0 L298.3,775.9 L299.0,770.8 L300.3,767.7 L301.6,762.6 L302.8,757.5 L304.1,752.3 L305.5,748.2 L306.7,745.2 L307.5,739.0 L308.2,734.9 L309.0,739.5 L310.3,740.0 L311.8,740.5 L313.1,743.1 L314.1,739.5 L315.4,741.6 L316.8,738.0 L318.0,739.5 L319.2,743.1 L320.3,748.2 L321.3,752.3 L322.6,755.4 L323.9,757.0 L325.0,755.4 L326.0,759.0 L327.0,762.6 L328.1,760.6 L329.1,754.4 L329.8,747.2 L330.8,742.1 L331.5,735.9 L332.2,731.3 L333.2,730.3 L333.9,724.6 L334.6,720.0 L336.0,717.4 L337.5,716.9 L339.0,717.4 L340.8,712.7 L342.2,711.3 L343.6,707.7 L345.5,712.7 L346.9,714.9 L347.9,707.0 L349.8,705.3 L351.2,709.9 L352.6,715.6 L354.5,720.6 L356.2,724.1 L357.9,725.6 L359.3,722.0 L361.1,709.8 L362.6,701.3 L364.3,697.3 L366.4,697.7 L367.8,701.3 L369.3,708.4 L371.1,709.8 L372.8,712.7 L374.5,715.5 L376.0,715.5 L377.4,708.4 L378.5,701.3 L380.0,694.8 L381.7,692.7 L383.5,694.8 L385.4,695.3 L387.1,698.4 L389.2,697.3 L391.4,698.1 L393.1,696.3 L394.5,692.7 L395.6,687.7 L396.8,685.6 L398.2,689.1 L399.9,692.7 L402.1,696.3 L404.5,698.4 L406.3,695.6 L408.2,692.0 L409.9,688.4 L411.3,683.4 L412.8,677.7 L414.9,674.9 L416.8,672.7 L418.2,676.3 L419.9,681.3 L421.6,686.3 L423.5,691.3 L425.3,694.8 L427.0,695.3 L428.4,691.3 L430.2,685.6 L431.6,679.9 L433.0,674.9 L434.4,672.5 L435.9,675.6 L437.7,679.9 L439.1,685.6 L441.0,691.3 L442.7,694.8 L444.4,692.0 L446.3,689.1 L448.1,684.9 L449.8,678.4 L451.3,671.3 L452.7,666.3 L453.3,665.2 L454.9,665.7 L456.4,667.2 L457.7,668.6 L459.0,667.2 L460.3,669.0 L461.8,670.8 L462.8,673.9 L464.1,675.4 L465.7,674.9 L467.2,675.4 L468.5,673.4 L469.8,670.8 L471.3,667.7 L472.8,665.7 L474.4,664.1 L475.7,662.1 L476.7,661.6 L477.5,664.7 L478.5,667.7 L480.0,667.2 L481.6,666.2 L482.9,665.7 L484.1,667.2 L485.2,663.6 L486.7,662.6 L488.2,662.1 L490.3,661.4 L491.8,662.6 L493.4,664.1 L494.6,666.7 L495.9,670.3 L497.5,668.2 L499.0,667.2 L500.3,664.7 L501.6,660.6 L502.8,657.7 L503.8,657.5 L505.2,660.0 L506.2,660.0 L507.7,659.0 L508.6,662.1 L509.8,665.7 L511.3,666.7 L512.9,668.8 L514.4,670.3 L515.9,670.3 L517.0,666.7 L518.0,662.6 L519.2,660.0 L520.3,655.4 L521.6,652.9 L522.9,651.3 L524.2,650.3 L525.4,652.3 L526.7,654.4 L528.1,654.9 L529.3,655.9 L530.3,658.0 L531.9,660.0" fill="none" stroke="#0000ff" stroke-width="3.2" stroke-linejoin="round" stroke-linecap="round" clip-path="url(#clipC)"/>
</g>
<g id="curvesD">
<path d="M611.3,737.7 L611.8,739.8 L612.8,745.5 L613.8,751.2 L615.0,755.5 L616.7,756.2 L618.1,756.9 L619.3,757.7 L620.0,749.8 L620.7,738.4 L621.8,721.3 L622.8,704.2 L623.5,689.9 L624.2,678.5 L625.2,671.4 L626.4,669.7 L627.5,672.8 L628.5,678.5 L629.5,685.6 L630.4,695.6 L631.4,707.0 L632.4,715.6 L633.2,717.7 L634.2,712.7 L635.2,704.2 L636.4,695.6 L637.5,687.1 L638.5,678.5 L639.5,672.8 L640.9,671.4 L642.4,673.5 L643.5,679.9 L644.9,684.2 L646.4,688.5 L647.8,692.1 L649.2,694.9 L650.9,695.3 L652.8,693.5 L654.2,689.9 L655.6,687.8 L657.0,688.2 L658.5,690.6 L659.9,694.9 L661.3,697.8 L663.2,699.2 L664.9,698.5 L666.3,695.9 L668.5,695.6 L669.9,697.1 L671.3,699.2 L673.2,701.0 L674.6,699.9 L676.0,697.1 L677.7,694.2 L679.1,691.4 L680.6,687.1 L682.0,682.8 L683.1,679.9 L684.9,677.8 L686.6,675.4 L687.7,677.1 L689.1,679.9 L690.6,682.1 L692.7,683.5 L694.5,685.4 L696.3,687.4 L697.4,691.4 L698.8,695.6 L700.3,699.2 L702.0,702.8 L703.7,704.9 L705.5,704.2 L707.0,704.9 L708.4,708.5 L710.2,710.6 L712.2,712.0 L714.1,710.6 L715.1,707.0 L716.2,701.3 L717.4,695.6 L718.8,691.4 L720.2,687.8 L721.6,684.9 L723.4,682.8 L724.8,678.5 L726.2,674.2 L727.3,670.0 L728.8,666.4 L730.5,664.3 L732.6,662.5 L734.8,662.1 L736.9,660.7 L739.0,660.3 L741.2,658.8 L742.6,657.1 L744.0,655.0 L747.1,654.9 L749.3,654.5 L751.4,652.8 L753.3,653.5 L754.7,656.3 L756.1,660.6 L757.8,666.3 L759.3,671.3 L760.7,675.6 L762.1,681.3 L763.8,687.7 L765.7,692.7 L767.8,695.3 L769.5,694.1 L771.0,690.6 L772.4,685.6 L773.8,679.9 L775.2,674.9 L776.7,671.3 L778.5,667.0 L780.4,662.0 L781.8,657.8 L783.2,652.8 L784.9,649.2 L786.6,647.4 L788.5,645.6 L790.3,643.5 L792.1,641.4 L794.2,640.2 L796.0,641.1 L797.8,643.5 L799.9,645.6 L801.8,644.2 L803.5,642.8 L804.9,641.7 L806.6,639.2 L808.0,642.1 L809.9,643.5 L811.7,644.2 L812.7,647.8 L813.7,652.1 L814.9,655.6 L816.0,659.2 L817.4,662.8 L818.9,665.3 L820.6,665.6 L822.3,664.9 L824.1,667.7 L825.6,664.9 L827.0,659.9 L828.8,657.8 L830.6,655.9 L832.3,655.3 L834.1,656.3 L836.0,655.6 L837.4,653.5 L838.8,656.3 L840.3,659.6 L842.0,658.5 L843.4,654.9 L844.8,650.6 L846.2,645.6 L848.0,640.7 L849.8,643.9 L851.7,644.2 L853.7,643.5 L855.5,645.6 L857.6,647.8 L859.4,650.6 L861.2,653.5 L863.1,648.2 L864.8,647.8 L866.9,647.8 L869.1,647.1 L870.5,646.4 L871.9,648.2 L873.3,645.4 L875.0,644.2 L876.9,640.7 L878.3,643.9 L880.2,643.5 L881.6,644.2 L883.0,647.8 L884.7,648.2 L887.0,648.8 L888.6,652.9 L890.3,656.2 L892.4,658.7 L894.1,659.9 L895.8,657.9 L896.9,652.9 L898.2,648.0 L899.9,644.7 L901.5,647.1 L903.2,646.3 L904.8,648.8 L906.5,652.9 L907.8,655.4 L909.5,650.4 L911.1,649.6 L912.8,648.0 L913.9,652.1 L915.6,657.9 L917.3,662.0 L918.9,657.9 L920.1,652.9 L921.4,647.1 L922.7,641.3 L923.9,637.2 L925.0,635.6 L926.0,631.4 L927.2,627.3 L928.3,629.8 L930.0,630.6 L931.3,634.7 L932.6,639.7 L934.3,641.3 L935.4,642.2 L936.6,646.3 L938.3,648.8 L939.6,644.7 L940.4,643.3 L941.2,654.6 L942.1,662.9 L943.2,667.8 L944.9,668.6 L946.5,667.0 L947.5,659.5 L948.7,648.0 L949.5,638.0 L950.3,634.7 L951.5,633.9 L952.0,644.7 L952.5,652.9 L953.6,657.1 L954.8,664.5 L955.8,672.8 L956.9,681.9 L958.1,681.0 L959.1,671.1 L959.8,661.2 L960.4,657.1 L961.4,666.2 L962.4,673.6 L963.6,676.9 L964.7,675.3 L965.7,669.5 L966.9,663.7 L968.0,666.2 L969.0,665.3 L970.2,656.2 L971.0,647.1 L971.8,652.9 L972.7,661.2 L973.5,669.5 L974.6,676.9 L975.6,680.2 L976.8,671.1 L977.6,662.9 L978.5,662.0 L979.3,654.6 L980.1,646.3 L981.3,639.7 L982.6,633.1 L983.7,630.6 L985.1,633.9 L986.2,635.6 L987.5,638.9 L988.9,642.2 L990.0,644.7 L991.2,641.3 L992.8,639.7 L993.5,648.0 L994.2,659.5 L995.5,656.2 L996.6,654.9 L998.3,657.1 L1000.4,658.2 L1002.4,657.9 L1004.4,660.9 L1006.1,657.9 L1007.4,652.9 L1009.0,648.8 L1010.7,645.5 L1012.7,645.5 L1014.3,648.0 L1015.7,652.9 L1017.0,657.1 L1018.6,657.9 L1020.3,662.0 L1021.5,663.7 L1022.6,667.0 L1023.9,662.0 L1025.3,657.9 L1026.9,660.4 L1028.1,654.6 L1029.7,650.4 L1031.4,648.0 L1033.0,646.3 L1034.2,639.7 L1035.2,636.1 L1036.8,638.0 L1038.5,641.3 L1040.1,643.3 L1041.3,644.7 L1043.0,642.2 L1044.1,637.2 L1045.8,633.1 L1047.9,632.7 L1049.1,641.3 L1050.1,648.8" fill="none" stroke="#ff0000" stroke-width="3.2" stroke-linejoin="round" stroke-linecap="round" clip-path="url(#clipD)"/>
<path d="M622.4,812.6 L622.8,805.8 L623.5,797.0 L624.2,785.6 L625.0,774.1 L626.1,759.9 L627.1,747.1 L628.1,743.9 L629.2,745.6 L630.4,754.2 L631.4,764.2 L632.4,775.6 L633.2,784.1 L634.2,786.7 L635.2,784.1 L636.4,777.0 L637.5,767.0 L638.5,757.0 L639.5,749.9 L640.6,744.9 L642.1,743.5 L643.2,746.3 L644.2,751.3 L645.6,757.0 L647.1,761.3 L648.5,765.6 L649.9,769.2 L651.3,772.0 L653.2,773.0 L654.9,771.3 L656.6,769.6 L658.0,769.6 L659.5,772.0 L660.9,774.9 L662.0,777.7 L663.7,779.6 L665.6,779.1 L667.5,779.6 L669.2,781.3 L670.6,783.4 L672.3,786.3 L674.2,788.7 L676.3,787.3 L678.4,786.3 L680.6,784.1 L682.7,782.0 L684.6,779.1 L686.3,774.9 L687.7,770.6 L689.1,765.6 L690.6,759.9 L692.0,754.9 L693.4,752.0 L695.5,751.0 L697.4,752.5 L699.1,754.2 L701.2,754.9 L703.7,755.6 L705.5,758.2 L707.4,760.6 L709.4,763.5 L711.2,765.9 L713.4,767.7 L716.2,769.2 L719.1,768.2 L721.2,767.0 L723.4,764.9 L725.5,763.0 L727.6,762.0 L729.8,761.0 L731.6,759.6 L733.3,758.2 L735.0,758.5 L736.9,761.0 L738.3,762.5 L739.7,760.6 L741.2,757.0 L742.6,752.8 L744.0,749.2 L747.1,747.7 L749.3,746.3 L751.4,743.5 L753.3,739.2 L754.7,736.3 L756.4,735.9 L758.1,739.2 L759.5,745.6 L761.0,752.7 L762.4,759.9 L764.2,763.4 L766.1,761.3 L767.8,756.3 L769.5,750.6 L771.4,747.7 L773.5,746.8 L775.2,746.3 L777.1,743.5 L779.2,739.9 L781.4,736.3 L783.2,734.5 L785.2,732.8 L787.5,729.9 L789.2,725.6 L790.6,721.1 L792.1,717.1 L793.5,715.7 L795.2,717.8 L796.6,721.4 L798.5,724.5 L800.6,726.4 L802.7,727.1 L804.9,726.4 L806.6,727.4 L807.7,732.8 L808.9,737.8 L810.3,741.3 L811.7,746.3 L813.2,752.7 L814.2,759.9 L815.2,767.0 L816.3,774.1 L817.4,782.7 L818.4,791.2 L819.4,796.7 L820.6,794.1 L821.7,785.5 L822.7,775.6 L823.7,765.6 L824.9,755.6 L826.0,745.6 L827.0,738.5 L828.4,734.9 L829.8,732.1 L831.3,725.6 L832.7,719.2 L834.5,714.2 L836.3,710.0 L838.4,706.4 L840.3,702.1 L842.0,698.6 L844.1,697.1 L846.0,698.3 L847.7,701.1 L849.8,704.3 L851.7,708.3 L853.4,707.8 L855.1,705.7 L856.9,704.3 L858.8,706.8 L860.5,710.7 L861.2,717.1 L862.6,723.5 L864.5,728.5 L866.2,731.4 L867.9,731.4 L869.3,735.6 L870.8,741.3 L872.2,748.5 L873.6,754.9 L875.5,758.2 L876.9,756.3 L877.9,751.3 L879.0,744.9 L880.5,739.9 L881.9,734.2 L883.0,729.9 L884.7,729.6 L887.0,733.0 L888.6,732.1 L890.3,727.2 L891.9,722.2 L894.1,722.7 L896.2,723.9 L898.2,725.5 L900.2,726.7 L901.9,727.7 L902.9,733.0 L904.0,741.2 L905.2,749.5 L906.5,756.9 L908.5,756.1 L910.1,754.8 L911.5,759.4 L912.8,764.7 L913.9,761.1 L915.1,756.5 L916.8,758.6 L918.4,755.3 L919.7,754.5 L920.6,756.9 L921.7,751.2 L923.0,747.0 L924.7,745.4 L926.3,741.2 L927.7,737.1 L928.8,735.0 L930.0,740.4 L931.6,737.9 L933.8,734.3 L935.9,734.6 L937.6,739.6 L939.6,741.6 L941.6,743.7 L943.2,742.9 L945.4,743.2 L947.0,742.1 L947.9,747.9 L948.7,752.8 L949.8,756.1 L951.2,755.8 L952.0,761.1 L953.1,767.7 L954.8,770.2 L956.5,772.3 L958.6,772.7 L960.3,774.0 L961.4,767.7 L962.4,763.6 L964.1,761.9 L965.7,758.6 L966.9,765.2 L968.0,771.0 L969.0,766.0 L970.2,761.1 L971.3,766.9 L972.7,765.2 L974.3,761.1 L975.1,751.2 L975.6,743.7 L977.6,742.9 L978.5,734.6 L979.6,718.1 L980.6,705.7 L981.4,702.4 L982.6,706.2 L984.2,707.3 L985.6,713.9 L987.5,718.9 L989.2,713.9 L990.9,705.7 L992.2,699.1 L993.3,697.4 L994.5,701.5 L995.5,710.6 L996.6,718.9 L997.8,726.3 L999.1,733.8 L1000.4,739.6 L1001.6,730.5 L1002.4,727.7 L1003.3,736.3 L1004.1,737.1 L1004.9,747.9 L1006.1,757.8 L1007.4,764.4 L1008.7,766.9 L1009.9,764.4 L1011.0,751.2 L1012.0,741.2 L1013.2,737.6 L1014.3,738.8 L1015.3,736.6 L1016.0,744.5 L1016.7,750.3 L1017.6,746.2 L1018.6,737.9 L1019.3,731.6 L1020.3,729.3 L1021.3,732.1 L1022.0,739.6 L1022.9,754.5 L1023.9,767.7 L1025.3,782.6 L1026.4,792.5 L1027.6,798.8 L1028.6,790.9 L1029.2,777.6 L1029.9,762.7 L1030.6,749.5 L1031.2,742.9 L1032.2,751.2 L1033.0,757.8 L1033.9,741.2 L1034.5,739.9 L1035.5,747.9 L1036.3,764.4 L1037.2,780.9 L1038.2,792.2 L1039.2,784.2 L1040.1,767.7 L1040.8,752.8 L1041.5,741.2 L1042.5,742.1 L1043.5,746.2 L1044.1,721.4 L1044.8,706.5 L1045.4,716.4 L1046.3,729.7 L1047.1,741.2 L1047.9,742.9 L1048.7,736.3 L1050.1,747.0" fill="none" stroke="#0000ff" stroke-width="3.2" stroke-linejoin="round" stroke-linecap="round" clip-path="url(#clipD)"/>
</g>
<g id="insetC">
<rect x="158.2" y="454.3" width="179.9" height="187" fill="#d9d9d9"/>
<path d="M193.9,467.7 H162.9 V619.8 H184" fill="none" stroke="#111" stroke-width="1.15"/>
<path d="M162.9,598.7 H184" fill="none" stroke="#111" stroke-width="1.15"/>
<path d="M289,467.7 H262" fill="none" stroke="#111" stroke-width="1.15"/>
<path d="M257.5,467.7 L266.8,464.6 L266.8,470.8 Z" fill="#111"/>
<path d="M168.6,467.7 L178,464.6 L178,470.8 Z" fill="#111"/>
<path d="M188.8,598.7 L180.6,595.6 L180.6,601.8 Z" fill="#111"/>
<path d="M188.8,619.8 L180.6,616.7 L180.6,622.9 Z" fill="#111"/>
<rect x="193.9" y="457.9" width="62.4" height="19.8" rx="5" ry="5" fill="#4472c4" stroke="#111" stroke-width="1"/>
<rect x="289" y="457.9" width="45.6" height="19.8" rx="5" ry="5" fill="#4472c4" stroke="#111" stroke-width="1"/>
<text x="225" y="472.3" font-size="12" text-anchor="middle">VNA</text>
<text x="311.8" y="471.6" font-size="12" text-anchor="middle">LCA</text>
<rect x="168.7" y="485.2" width="33.2" height="15.9" rx="3.5" ry="3.5" fill="none" stroke="#ff0000" stroke-width="1.25"/>
<text x="185" y="497.6" font-size="11.5" text-anchor="middle" style="fill:#ff0000">TL</text>
<circle cx="209.5" cy="489.6" r="3.5" fill="none" stroke="#ff0000" stroke-width="1.2"/>
<circle cx="216.9" cy="489.6" r="3.5" fill="none" stroke="#ff0000" stroke-width="1.2"/>
<circle cx="224.3" cy="489.6" r="3.5" fill="none" stroke="#ff0000" stroke-width="1.2"/>
<path d="M201.9,493.2 H237.6 V500" fill="none" stroke="#ff0000" stroke-width="1.3"/>
<path d="M237.6,509.4 L234.6,498.6 L240.6,498.6 Z" fill="#ff0000"/>
<path d="M237.6,509 V514.8" fill="none" stroke="#ff0000" stroke-width="1.3"/>
<text x="218.5" y="504.2" font-size="11.5" text-anchor="middle" style="fill:#ff0000">PC</text>
<text x="242.4" y="505" font-size="10" font-style="italic" style="fill:#ff0000">λ<tspan font-size="5.5" dy="1.8">i</tspan></text>
<rect x="190.2" y="511.6" width="133.9" height="126.9" fill="none" stroke="#111" stroke-width="1.15"/>
<circle cx="226.0" cy="517.8" r="3.0" fill="none" stroke="#ff0000" stroke-width="1.2"/>
<circle cx="237.6" cy="517.8" r="3.0" fill="none" stroke="#ff0000" stroke-width="1.2"/>
<circle cx="311.8" cy="517.8" r="3.0" fill="none" stroke="#ff0000" stroke-width="1.2"/>
<path d="M226,520.8 V522.2 H201.6 V609.7 H210.3" fill="none" stroke="#ff0000" stroke-width="1.3"/>
<path d="M237.6,520.8 V526.2 H205.6 V550.1 H210.3" fill="none" stroke="#ff0000" stroke-width="1.3"/>
<path d="M283.2,550.6 H288" fill="none" stroke="#ff0000" stroke-width="1.25"/>
<path d="M294.6,550.6 L286.6,548 L286.6,553.2 Z" fill="#ff0000"/>
<path d="M283.2,609.3 H294.9" fill="none" stroke="#ff0000" stroke-width="1.25"/>
<path d="M313.6,580 H319.2 V522.4 H314.6 L313.4,520.6" fill="none" stroke="#ff0000" stroke-width="1.25"/>
<path d="M311.7,477.7 V503.4 M311.7,510.4 V514.8" fill="none" stroke="#ff0000" stroke-width="1.25"/>
<path d="M311.7,502.2 L308.4,510.9 L315,510.9 Z" fill="#ff0000"/>
<rect x="210.3" y="527.9" width="72.9" height="44.4" fill="none" stroke="#111" stroke-width="1.15"/>
<rect x="210.3" y="586.8" width="72.9" height="44.4" fill="none" stroke="#111" stroke-width="1.15"/>
<rect x="294.9" y="528.4" width="18.7" height="102.8" fill="none" stroke="#111" stroke-width="1.15"/>
<text x="245" y="554.4" font-size="11.6" text-anchor="middle">Victim Mod</text>
<text x="245" y="613.3" font-size="11.6" text-anchor="middle">Active Mod</text>
<text transform="translate(308,580) rotate(-90)" font-size="11.6" text-anchor="middle">MUX</text>
<text x="279.3" y="525.2" font-size="11.5" text-anchor="middle" style="fill:#ff0000">Tx</text>
<rect x="193.7" y="525.9" width="6.4" height="6.4" rx="0.9" ry="0.9" fill="#1e1e1e"/>
<text x="196.9" y="531.0" font-size="5.4" font-weight="bold" text-anchor="middle" style="fill:#e8e8e8">G</text>
<rect x="193.7" y="536.4" width="6.4" height="6.4" rx="0.9" ry="0.9" fill="#1e1e1e"/>
<text x="196.9" y="541.5" font-size="5.4" font-weight="bold" text-anchor="middle" style="fill:#e8e8e8">S</text>
<rect x="193.7" y="546.9" width="6.4" height="6.4" rx="0.9" ry="0.9" fill="#1e1e1e"/>
<text x="196.9" y="552.0" font-size="5.4" font-weight="bold" text-anchor="middle" style="fill:#e8e8e8">G</text>
<rect x="193.7" y="557.5" width="6.4" height="6.4" rx="0.9" ry="0.9" fill="#1e1e1e"/>
<text x="196.9" y="562.6" font-size="5.4" font-weight="bold" text-anchor="middle" style="fill:#e8e8e8">S</text>
<rect x="193.7" y="568.0" width="6.4" height="6.4" rx="0.9" ry="0.9" fill="#1e1e1e"/>
<text x="196.9" y="573.1" font-size="5.4" font-weight="bold" text-anchor="middle" style="fill:#e8e8e8">G</text>
<rect x="193.7" y="584.3" width="6.4" height="6.4" rx="0.9" ry="0.9" fill="#1e1e1e"/>
<text x="196.9" y="589.4" font-size="5.4" font-weight="bold" text-anchor="middle" style="fill:#e8e8e8">G</text>
<rect x="193.7" y="595.5" width="6.4" height="6.4" rx="0.9" ry="0.9" fill="#1e1e1e"/>
<text x="196.9" y="600.6" font-size="5.4" font-weight="bold" text-anchor="middle" style="fill:#e8e8e8">S</text>
<rect x="193.7" y="606.1" width="6.4" height="6.4" rx="0.9" ry="0.9" fill="#1e1e1e"/>
<text x="196.9" y="611.2" font-size="5.4" font-weight="bold" text-anchor="middle" style="fill:#e8e8e8">G</text>
<rect x="193.7" y="616.6" width="6.4" height="6.4" rx="0.9" ry="0.9" fill="#1e1e1e"/>
<text x="196.9" y="621.7" font-size="5.4" font-weight="bold" text-anchor="middle" style="fill:#e8e8e8">S</text>
<rect x="193.7" y="627.1" width="6.4" height="6.4" rx="0.9" ry="0.9" fill="#1e1e1e"/>
<text x="196.9" y="632.2" font-size="5.4" font-weight="bold" text-anchor="middle" style="fill:#e8e8e8">G</text>
<path d="M168.7,560.7 H193.6 M172.7,562 V618.5 M187.4,562 V597.4" fill="none" stroke="#111" stroke-width="0.8"/>
<path d="M172.7,560.9 L171.3,565.5 L174.1,565.5 Z M172.7,619.6 L171.3,615 L174.1,615 Z M187.4,560.9 L186,565.5 L188.8,565.5 Z M187.4,598.5 L186,593.9 L188.8,593.9 Z" fill="#111"/>
<text transform="translate(169.6,582) rotate(-90)" font-size="8.8" text-anchor="middle">700µm</text>
<text transform="translate(183.9,581.3) rotate(-90)" font-size="8.8" text-anchor="middle">500µm</text>
<text x="181.6" y="611.2" font-size="10.5" text-anchor="middle" style="fill:#ff0000">S1</text>
<text x="182.4" y="631.6" font-size="10.5" text-anchor="middle" style="fill:#ff0000">S2</text>
<text x="229.6" y="583" font-size="9.4" text-anchor="middle" style="fill:#1a78c8">crosstalk</text>
<path d="M217.8,591.9 C235,588 246,586.5 252,581 C258,575 263,570.5 274,568.6" fill="none" stroke="#1a78c8" stroke-width="1.1" stroke-dasharray="3 2"/>
<path d="M280.2,567.6 L272.6,566.2 L273.6,571.4 Z" fill="#1a78c8"/>
</g>
<g id="insetD">
<rect x="698.4" y="453.4" width="153.8" height="178.9" fill="#d9d9d9"/>
<path d="M754,467.9 H762" fill="none" stroke="#111" stroke-width="1.15"/>
<path d="M770.2,467.9 L761.2,464.9 L761.2,470.9 Z" fill="#111"/>
<path d="M728.2,488 V593.4 M728.2,603.2 V629.3 H794.9 V607.2 M773.4,629.3 V607.2" fill="none" stroke="#111" stroke-width="1.15"/>
<path d="M728.2,479 L725.3,489.6 L731.1,489.6 Z" fill="#111"/>
<path d="M773.4,621.4 L770.5,612.4 L776.3,612.4 Z M794.9,621.4 L792,612.4 L797.8,612.4 Z" fill="#111"/>
<path d="M816.9,607.2 V618.3 M828.2,607.2 V618.3" fill="none" stroke="#111" stroke-width="1.15"/>
<rect x="701.1" y="457.9" width="52.9" height="20" rx="5" ry="5" fill="#4472c4" stroke="#111" stroke-width="1"/>
<rect x="770.4" y="457.9" width="48.9" height="20" rx="5" ry="5" fill="#4472c4" stroke="#111" stroke-width="1"/>
<text x="727.5" y="472.2" font-size="12" text-anchor="middle">VNA</text>
<text x="795" y="472.2" font-size="12" text-anchor="middle">LCA</text>
<path d="M794.9,477.9 V509 M794.9,517 V521.7 M794.9,528.3 V535" fill="none" stroke="#ff0000" stroke-width="1.25"/>
<circle cx="791.4" cy="486.1" r="3.5" fill="none" stroke="#ff0000" stroke-width="1.25"/>
<circle cx="791.4" cy="493.9" r="3.5" fill="none" stroke="#ff0000" stroke-width="1.25"/>
<circle cx="791.4" cy="502.0" r="3.5" fill="none" stroke="#ff0000" stroke-width="1.25"/>
<path d="M794.9,517.4 L792.2,508.2 L797.6,508.2 Z" fill="#ff0000"/>
<circle cx="794.9" cy="525" r="3.3" fill="none" stroke="#ff0000" stroke-width="1.25"/>
<text x="777.8" y="498" font-size="11.5" text-anchor="middle" style="fill:#ff0000">PC</text>
<text x="802.2" y="515.2" font-size="11.3" style="fill:#ff0000">1310nm</text>
<text x="832.4" y="532" font-size="13.4" text-anchor="middle" style="fill:#ff0000">Rx</text>
<rect x="745.6" y="518.8" width="101.1" height="88.4" fill="none" stroke="#111" stroke-width="1.15"/>
<rect x="765.1" y="535" width="59.8" height="24.4" fill="none" stroke="#111" stroke-width="1.15"/>
<text x="794.6" y="551.2" font-size="11.2" text-anchor="middle">DEMUX</text>
<rect x="769.4" y="572.6" width="7.5" height="22.8" fill="none" stroke="#111" stroke-width="1.15"/>
<rect x="791.6" y="572.6" width="7.5" height="22.8" fill="none" stroke="#111" stroke-width="1.15"/>
<rect x="812.7" y="572.6" width="7.5" height="22.8" fill="none" stroke="#111" stroke-width="1.15"/>
<path d="M773.3,559.4 V573.2 M794.9,559.4 V573.2 M816.7,559.4 V564" fill="none" stroke="#ff0000" stroke-width="1.25"/>
<path d="M816.7,571.4 L814.2,563.4 L819.2,563.4 Z" fill="#ff0000"/>
<text transform="translate(767.2,573.6) rotate(-90)" font-size="8.2" text-anchor="middle" style="fill:#333">PD4</text>
<text transform="translate(789.4,573.6) rotate(-90)" font-size="8.2" text-anchor="middle" style="fill:#333">PD6</text>
<text transform="translate(827.7,573) rotate(-90)" font-size="8.2" text-anchor="middle" style="fill:#333">PD8</text>
<rect x="758.8" y="598.3" width="6.8" height="6.8" rx="0.9" ry="0.9" fill="#1e1e1e"/>
<text x="762.2" y="603.6" font-size="5.4" font-weight="bold" text-anchor="middle" style="fill:#e8e8e8">G</text>
<rect x="769.8" y="598.3" width="6.8" height="6.8" rx="0.9" ry="0.9" fill="#1e1e1e"/>
<text x="773.2" y="603.6" font-size="5.4" font-weight="bold" text-anchor="middle" style="fill:#e8e8e8">S</text>
<rect x="780.8" y="598.3" width="6.8" height="6.8" rx="0.9" ry="0.9" fill="#1e1e1e"/>
<text x="784.2" y="603.6" font-size="5.4" font-weight="bold" text-anchor="middle" style="fill:#e8e8e8">G</text>
<rect x="791.7" y="598.3" width="6.8" height="6.8" rx="0.9" ry="0.9" fill="#1e1e1e"/>
<text x="795.1" y="603.6" font-size="5.4" font-weight="bold" text-anchor="middle" style="fill:#e8e8e8">S</text>
<rect x="802.7" y="598.3" width="6.8" height="6.8" rx="0.9" ry="0.9" fill="#1e1e1e"/>
<text x="806.1" y="603.6" font-size="5.4" font-weight="bold" text-anchor="middle" style="fill:#e8e8e8">G</text>
<rect x="813.6" y="598.3" width="6.8" height="6.8" rx="0.9" ry="0.9" fill="#1e1e1e"/>
<text x="817.0" y="603.6" font-size="5.4" font-weight="bold" text-anchor="middle" style="fill:#e8e8e8">S</text>
<rect x="824.6" y="598.3" width="6.8" height="6.8" rx="0.9" ry="0.9" fill="#1e1e1e"/>
<text x="828.0" y="603.6" font-size="5.4" font-weight="bold" text-anchor="middle" style="fill:#e8e8e8">G</text>
<rect x="722.9" y="593.4" width="10.4" height="9.8" fill="#dcdcdc" stroke="#111" stroke-width="1"/>
<path d="M733.3,598.3 H740" fill="none" stroke="#111" stroke-width="1.15"/>
<text x="733.6" y="594.6" font-size="10.6" font-weight="bold">V<tspan font-size="6.6" dy="1.6">b</tspan></text>
<text x="727.5" y="613.3" font-size="9.6" text-anchor="middle" style="fill:#333">Bias tee</text>
<text x="818.6" y="625.6" font-size="11" font-weight="bold">V<tspan font-size="6.6" dy="1.6">b</tspan></text>
<text x="765.2" y="623.9" font-size="10.4" text-anchor="middle" style="fill:#ff0000">S2</text>
<text x="787.4" y="623.9" font-size="10.4" text-anchor="middle" style="fill:#ff0000">S1</text>
<text x="796.6" y="589.5" font-size="9.7" text-anchor="middle" style="fill:#1a78c8">crosstalk</text>
<path d="M817.8,579.4 C806,583 790,589 778,596" fill="none" stroke="#1a78c8" stroke-width="1.1" stroke-dasharray="3 2"/>
<path d="M771.8,598.7 L780.6,599.3 L778.6,594 Z" fill="#1a78c8"/>
</g>
<line x1="390.5" y1="458.4" x2="430.6" y2="458.4" stroke="#ff0000" stroke-width="3"/>
<line x1="390.5" y1="481.4" x2="430.6" y2="481.4" stroke="#0000ff" stroke-width="3"/>
<text x="435" y="464.9" font-size="18.5">EO-XT-S1</text>
<text x="435" y="487.7" font-size="18.5">EO-XT-S2</text>
<line x1="912" y1="460.8" x2="956" y2="460.8" stroke="#ff0000" stroke-width="3"/>
<line x1="912" y1="483.6" x2="956" y2="483.6" stroke="#0000ff" stroke-width="3"/>
<text x="960" y="466.8" font-size="18.5">OE-XT-S1</text>
<text x="960" y="489.6" font-size="18.5">OE-XT-S2</text>
</svg></body></html>
